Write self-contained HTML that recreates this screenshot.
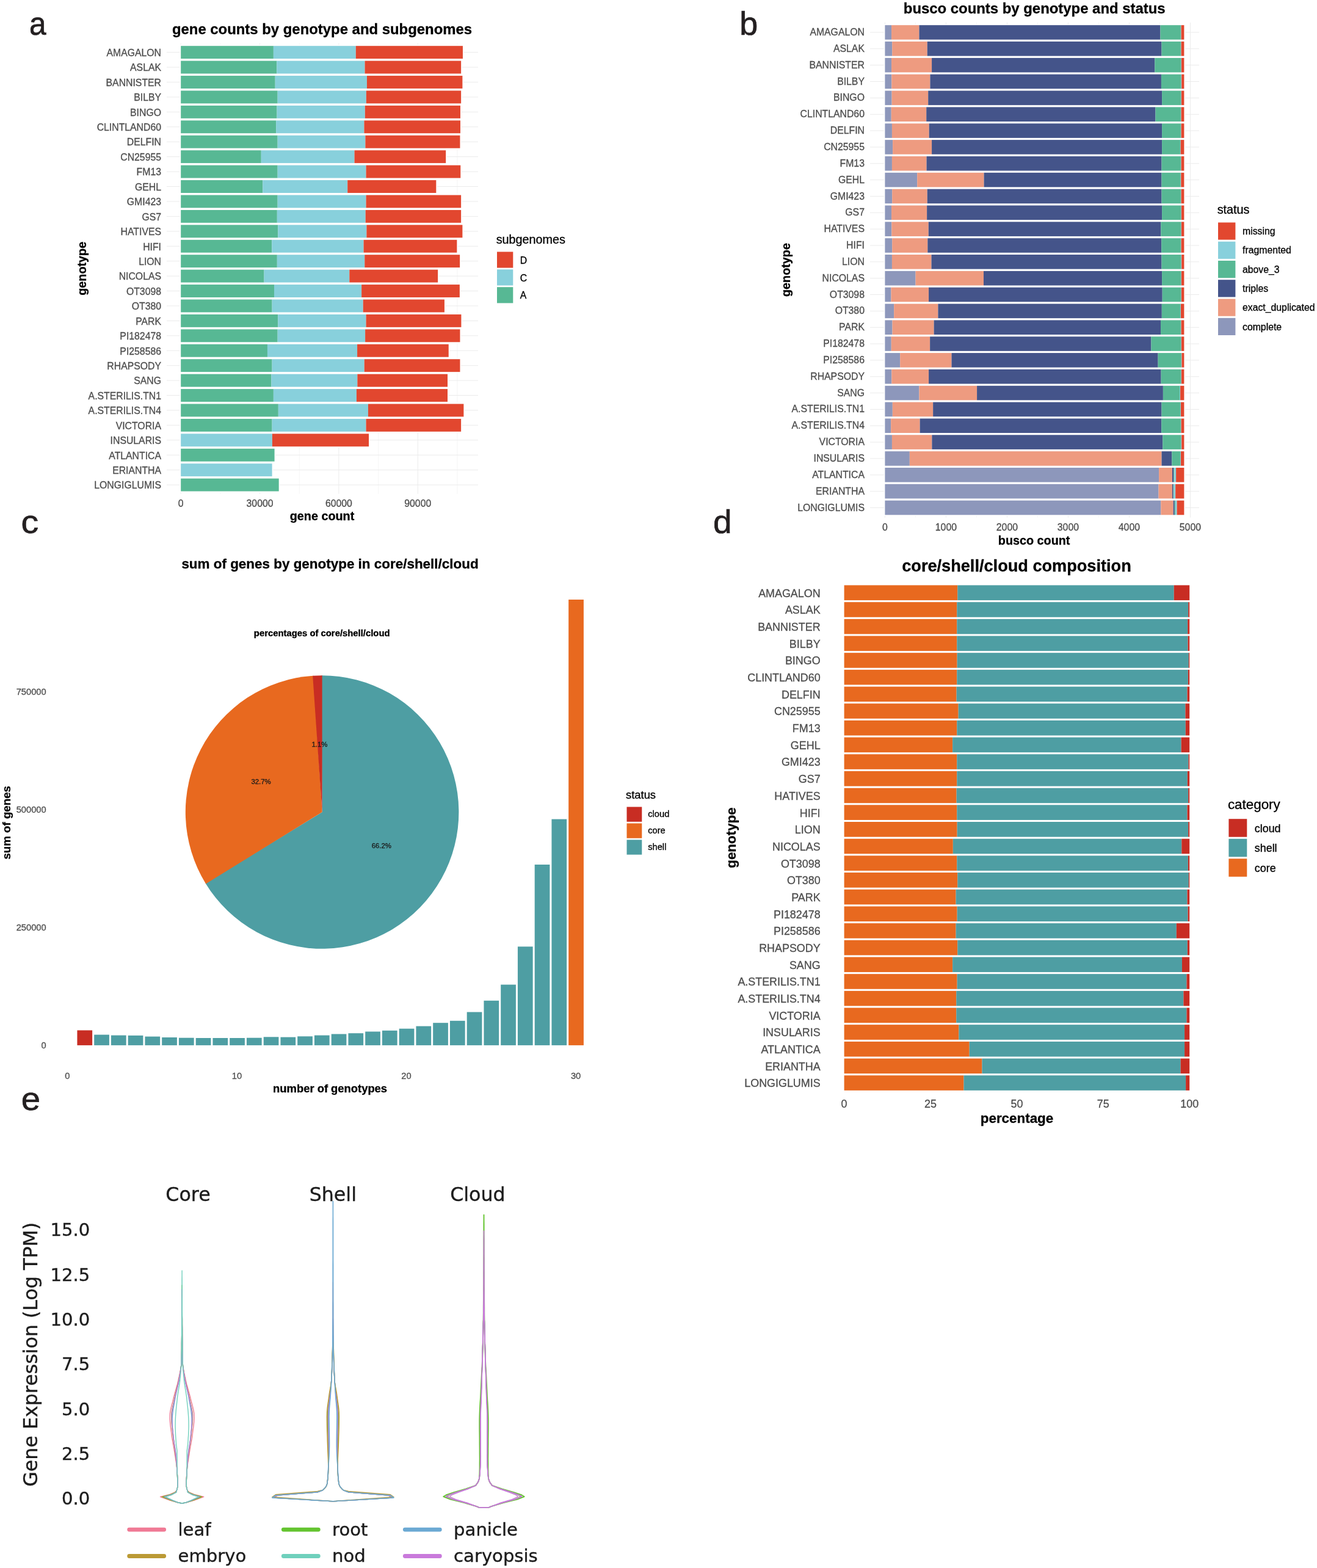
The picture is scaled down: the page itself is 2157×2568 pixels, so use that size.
<!DOCTYPE html>
<html lang="en"><head><meta charset="utf-8"><title>Pangenome figure</title>
<style>html,body{margin:0;padding:0;background:#fff}body{width:2157px;height:2568px;overflow:hidden}svg{display:block}.s{font-family:'Liberation Sans', sans-serif;stroke-width:0.3px;paint-order:stroke fill}.d{font-family:'DejaVu Sans', sans-serif;stroke-width:0.4px;paint-order:stroke fill}</style></head><body>
<svg width="2157" height="2568" viewBox="0 0 2157 2568" role="img" aria-label="Pangenome figure with panels a to e">
<rect width="2157" height="2568" fill="#fff"/>
<g id="panel-a">
<line x1="296.20" y1="70.99" x2="296.20" y2="808.78" stroke="#EBEBEB" stroke-width="1.0"/>
<line x1="360.88" y1="70.99" x2="360.88" y2="808.78" stroke="#EBEBEB" stroke-width="0.5"/>
<line x1="425.56" y1="70.99" x2="425.56" y2="808.78" stroke="#EBEBEB" stroke-width="1.0"/>
<line x1="490.24" y1="70.99" x2="490.24" y2="808.78" stroke="#EBEBEB" stroke-width="0.5"/>
<line x1="554.92" y1="70.99" x2="554.92" y2="808.78" stroke="#EBEBEB" stroke-width="1.0"/>
<line x1="619.60" y1="70.99" x2="619.60" y2="808.78" stroke="#EBEBEB" stroke-width="0.5"/>
<line x1="684.28" y1="70.99" x2="684.28" y2="808.78" stroke="#EBEBEB" stroke-width="1.0"/>
<line x1="748.96" y1="70.99" x2="748.96" y2="808.78" stroke="#EBEBEB" stroke-width="0.5"/>
<line x1="273.00" y1="85.65" x2="783.00" y2="85.65" stroke="#EBEBEB" stroke-width="1.0"/>
<line x1="273.00" y1="110.08" x2="783.00" y2="110.08" stroke="#EBEBEB" stroke-width="1.0"/>
<line x1="273.00" y1="134.51" x2="783.00" y2="134.51" stroke="#EBEBEB" stroke-width="1.0"/>
<line x1="273.00" y1="158.94" x2="783.00" y2="158.94" stroke="#EBEBEB" stroke-width="1.0"/>
<line x1="273.00" y1="183.37" x2="783.00" y2="183.37" stroke="#EBEBEB" stroke-width="1.0"/>
<line x1="273.00" y1="207.80" x2="783.00" y2="207.80" stroke="#EBEBEB" stroke-width="1.0"/>
<line x1="273.00" y1="232.23" x2="783.00" y2="232.23" stroke="#EBEBEB" stroke-width="1.0"/>
<line x1="273.00" y1="256.66" x2="783.00" y2="256.66" stroke="#EBEBEB" stroke-width="1.0"/>
<line x1="273.00" y1="281.09" x2="783.00" y2="281.09" stroke="#EBEBEB" stroke-width="1.0"/>
<line x1="273.00" y1="305.52" x2="783.00" y2="305.52" stroke="#EBEBEB" stroke-width="1.0"/>
<line x1="273.00" y1="329.95" x2="783.00" y2="329.95" stroke="#EBEBEB" stroke-width="1.0"/>
<line x1="273.00" y1="354.38" x2="783.00" y2="354.38" stroke="#EBEBEB" stroke-width="1.0"/>
<line x1="273.00" y1="378.81" x2="783.00" y2="378.81" stroke="#EBEBEB" stroke-width="1.0"/>
<line x1="273.00" y1="403.24" x2="783.00" y2="403.24" stroke="#EBEBEB" stroke-width="1.0"/>
<line x1="273.00" y1="427.67" x2="783.00" y2="427.67" stroke="#EBEBEB" stroke-width="1.0"/>
<line x1="273.00" y1="452.10" x2="783.00" y2="452.10" stroke="#EBEBEB" stroke-width="1.0"/>
<line x1="273.00" y1="476.53" x2="783.00" y2="476.53" stroke="#EBEBEB" stroke-width="1.0"/>
<line x1="273.00" y1="500.96" x2="783.00" y2="500.96" stroke="#EBEBEB" stroke-width="1.0"/>
<line x1="273.00" y1="525.39" x2="783.00" y2="525.39" stroke="#EBEBEB" stroke-width="1.0"/>
<line x1="273.00" y1="549.82" x2="783.00" y2="549.82" stroke="#EBEBEB" stroke-width="1.0"/>
<line x1="273.00" y1="574.25" x2="783.00" y2="574.25" stroke="#EBEBEB" stroke-width="1.0"/>
<line x1="273.00" y1="598.68" x2="783.00" y2="598.68" stroke="#EBEBEB" stroke-width="1.0"/>
<line x1="273.00" y1="623.11" x2="783.00" y2="623.11" stroke="#EBEBEB" stroke-width="1.0"/>
<line x1="273.00" y1="647.54" x2="783.00" y2="647.54" stroke="#EBEBEB" stroke-width="1.0"/>
<line x1="273.00" y1="671.97" x2="783.00" y2="671.97" stroke="#EBEBEB" stroke-width="1.0"/>
<line x1="273.00" y1="696.40" x2="783.00" y2="696.40" stroke="#EBEBEB" stroke-width="1.0"/>
<line x1="273.00" y1="720.83" x2="783.00" y2="720.83" stroke="#EBEBEB" stroke-width="1.0"/>
<line x1="273.00" y1="745.26" x2="783.00" y2="745.26" stroke="#EBEBEB" stroke-width="1.0"/>
<line x1="273.00" y1="769.69" x2="783.00" y2="769.69" stroke="#EBEBEB" stroke-width="1.0"/>
<line x1="273.00" y1="794.12" x2="783.00" y2="794.12" stroke="#EBEBEB" stroke-width="1.0"/>
<rect x="294.60" y="73.44" width="464.97" height="24.43" fill="#fff"/>
<rect x="296.20" y="75.20" width="151.68" height="20.90" fill="#57B894"/>
<rect x="447.88" y="75.20" width="134.92" height="20.90" fill="#88D0DC"/>
<rect x="582.80" y="75.20" width="175.17" height="20.90" fill="#E2472F"/>
<text class="s" x="264.00" y="91.91" font-size="15.8" fill="#4D4D4D" text-anchor="end" stroke="#4D4D4D">AMAGALON</text>
<rect x="294.60" y="97.87" width="462.14" height="24.43" fill="#fff"/>
<rect x="296.20" y="99.63" width="157.07" height="20.90" fill="#57B894"/>
<rect x="453.27" y="99.63" width="144.27" height="20.90" fill="#88D0DC"/>
<rect x="597.54" y="99.63" width="157.60" height="20.90" fill="#E2472F"/>
<text class="s" x="264.00" y="116.34" font-size="15.8" fill="#4D4D4D" text-anchor="end" stroke="#4D4D4D">ASLAK</text>
<rect x="294.60" y="122.29" width="464.40" height="24.43" fill="#fff"/>
<rect x="296.20" y="124.06" width="154.51" height="20.90" fill="#57B894"/>
<rect x="450.71" y="124.06" width="150.23" height="20.90" fill="#88D0DC"/>
<rect x="600.94" y="124.06" width="156.46" height="20.90" fill="#E2472F"/>
<text class="s" x="264.00" y="140.77" font-size="15.8" fill="#4D4D4D" text-anchor="end" stroke="#4D4D4D">BANNISTER</text>
<rect x="294.60" y="146.72" width="462.14" height="24.43" fill="#fff"/>
<rect x="296.20" y="148.49" width="158.48" height="20.90" fill="#57B894"/>
<rect x="454.68" y="148.49" width="145.12" height="20.90" fill="#88D0DC"/>
<rect x="599.81" y="148.49" width="155.33" height="20.90" fill="#E2472F"/>
<text class="s" x="264.00" y="165.20" font-size="15.8" fill="#4D4D4D" text-anchor="end" stroke="#4D4D4D">BILBY</text>
<rect x="294.60" y="171.16" width="461.00" height="24.43" fill="#fff"/>
<rect x="296.20" y="172.92" width="157.35" height="20.90" fill="#57B894"/>
<rect x="453.55" y="172.92" width="144.27" height="20.90" fill="#88D0DC"/>
<rect x="597.82" y="172.92" width="156.18" height="20.90" fill="#E2472F"/>
<text class="s" x="264.00" y="189.63" font-size="15.8" fill="#4D4D4D" text-anchor="end" stroke="#4D4D4D">BINGO</text>
<rect x="294.60" y="195.59" width="461.00" height="24.43" fill="#fff"/>
<rect x="296.20" y="197.35" width="155.93" height="20.90" fill="#57B894"/>
<rect x="452.13" y="197.35" width="144.27" height="20.90" fill="#88D0DC"/>
<rect x="596.41" y="197.35" width="157.60" height="20.90" fill="#E2472F"/>
<text class="s" x="264.00" y="214.06" font-size="15.8" fill="#4D4D4D" text-anchor="end" stroke="#4D4D4D">CLINTLAND60</text>
<rect x="294.60" y="220.01" width="460.44" height="24.43" fill="#fff"/>
<rect x="296.20" y="221.78" width="158.48" height="20.90" fill="#57B894"/>
<rect x="454.68" y="221.78" width="143.71" height="20.90" fill="#88D0DC"/>
<rect x="598.39" y="221.78" width="155.05" height="20.90" fill="#E2472F"/>
<text class="s" x="264.00" y="238.49" font-size="15.8" fill="#4D4D4D" text-anchor="end" stroke="#4D4D4D">DELFIN</text>
<rect x="294.60" y="244.44" width="437.19" height="24.43" fill="#fff"/>
<rect x="296.20" y="246.21" width="131.56" height="20.90" fill="#57B894"/>
<rect x="427.76" y="246.21" width="152.78" height="20.90" fill="#88D0DC"/>
<rect x="580.53" y="246.21" width="149.66" height="20.90" fill="#E2472F"/>
<text class="s" x="264.00" y="262.92" font-size="15.8" fill="#4D4D4D" text-anchor="end" stroke="#4D4D4D">CN25955</text>
<rect x="294.60" y="268.88" width="461.29" height="24.43" fill="#fff"/>
<rect x="296.20" y="270.64" width="158.48" height="20.90" fill="#57B894"/>
<rect x="454.68" y="270.64" width="144.84" height="20.90" fill="#88D0DC"/>
<rect x="599.52" y="270.64" width="154.76" height="20.90" fill="#E2472F"/>
<text class="s" x="264.00" y="287.35" font-size="15.8" fill="#4D4D4D" text-anchor="end" stroke="#4D4D4D">FM13</text>
<rect x="294.60" y="293.31" width="421.32" height="24.43" fill="#fff"/>
<rect x="296.20" y="295.07" width="134.11" height="20.90" fill="#57B894"/>
<rect x="430.31" y="295.07" width="138.89" height="20.90" fill="#88D0DC"/>
<rect x="569.20" y="295.07" width="145.12" height="20.90" fill="#E2472F"/>
<text class="s" x="264.00" y="311.78" font-size="15.8" fill="#4D4D4D" text-anchor="end" stroke="#4D4D4D">GEHL</text>
<rect x="294.60" y="317.74" width="462.14" height="24.43" fill="#fff"/>
<rect x="296.20" y="319.50" width="158.48" height="20.90" fill="#57B894"/>
<rect x="454.68" y="319.50" width="144.84" height="20.90" fill="#88D0DC"/>
<rect x="599.52" y="319.50" width="155.61" height="20.90" fill="#E2472F"/>
<text class="s" x="264.00" y="336.21" font-size="15.8" fill="#4D4D4D" text-anchor="end" stroke="#4D4D4D">GMI423</text>
<rect x="294.60" y="342.17" width="462.14" height="24.43" fill="#fff"/>
<rect x="296.20" y="343.93" width="157.63" height="20.90" fill="#57B894"/>
<rect x="453.83" y="343.93" width="144.84" height="20.90" fill="#88D0DC"/>
<rect x="598.67" y="343.93" width="156.46" height="20.90" fill="#E2472F"/>
<text class="s" x="264.00" y="360.64" font-size="15.8" fill="#4D4D4D" text-anchor="end" stroke="#4D4D4D">GS7</text>
<rect x="294.60" y="366.59" width="464.40" height="24.43" fill="#fff"/>
<rect x="296.20" y="368.36" width="159.05" height="20.90" fill="#57B894"/>
<rect x="455.25" y="368.36" width="145.12" height="20.90" fill="#88D0DC"/>
<rect x="600.37" y="368.36" width="157.03" height="20.90" fill="#E2472F"/>
<text class="s" x="264.00" y="385.07" font-size="15.8" fill="#4D4D4D" text-anchor="end" stroke="#4D4D4D">HATIVES</text>
<rect x="294.60" y="391.03" width="455.33" height="24.43" fill="#fff"/>
<rect x="296.20" y="392.79" width="149.13" height="20.90" fill="#57B894"/>
<rect x="445.33" y="392.79" width="150.23" height="20.90" fill="#88D0DC"/>
<rect x="595.56" y="392.79" width="152.78" height="20.90" fill="#E2472F"/>
<text class="s" x="264.00" y="409.50" font-size="15.8" fill="#4D4D4D" text-anchor="end" stroke="#4D4D4D">HIFI</text>
<rect x="294.60" y="415.45" width="460.15" height="24.43" fill="#fff"/>
<rect x="296.20" y="417.22" width="157.63" height="20.90" fill="#57B894"/>
<rect x="453.83" y="417.22" width="143.42" height="20.90" fill="#88D0DC"/>
<rect x="597.26" y="417.22" width="155.90" height="20.90" fill="#E2472F"/>
<text class="s" x="264.00" y="433.93" font-size="15.8" fill="#4D4D4D" text-anchor="end" stroke="#4D4D4D">LION</text>
<rect x="294.60" y="439.89" width="424.15" height="24.43" fill="#fff"/>
<rect x="296.20" y="441.65" width="136.37" height="20.90" fill="#57B894"/>
<rect x="432.57" y="441.65" width="139.74" height="20.90" fill="#88D0DC"/>
<rect x="572.31" y="441.65" width="144.84" height="20.90" fill="#E2472F"/>
<text class="s" x="264.00" y="458.36" font-size="15.8" fill="#4D4D4D" text-anchor="end" stroke="#4D4D4D">NICOLAS</text>
<rect x="294.60" y="464.31" width="459.87" height="24.43" fill="#fff"/>
<rect x="296.20" y="466.08" width="152.81" height="20.90" fill="#57B894"/>
<rect x="449.01" y="466.08" width="143.14" height="20.90" fill="#88D0DC"/>
<rect x="592.15" y="466.08" width="160.71" height="20.90" fill="#E2472F"/>
<text class="s" x="264.00" y="482.79" font-size="15.8" fill="#4D4D4D" text-anchor="end" stroke="#4D4D4D">OT3098</text>
<rect x="294.60" y="488.75" width="434.93" height="24.43" fill="#fff"/>
<rect x="296.20" y="490.51" width="149.41" height="20.90" fill="#57B894"/>
<rect x="445.61" y="490.51" width="149.09" height="20.90" fill="#88D0DC"/>
<rect x="594.71" y="490.51" width="133.22" height="20.90" fill="#E2472F"/>
<text class="s" x="264.00" y="507.22" font-size="15.8" fill="#4D4D4D" text-anchor="end" stroke="#4D4D4D">OT380</text>
<rect x="294.60" y="513.17" width="462.42" height="24.43" fill="#fff"/>
<rect x="296.20" y="514.94" width="159.05" height="20.90" fill="#57B894"/>
<rect x="455.25" y="514.94" width="144.27" height="20.90" fill="#88D0DC"/>
<rect x="599.52" y="514.94" width="155.90" height="20.90" fill="#E2472F"/>
<text class="s" x="264.00" y="531.65" font-size="15.8" fill="#4D4D4D" text-anchor="end" stroke="#4D4D4D">PARK</text>
<rect x="294.60" y="537.61" width="460.44" height="24.43" fill="#fff"/>
<rect x="296.20" y="539.37" width="158.48" height="20.90" fill="#57B894"/>
<rect x="454.68" y="539.37" width="143.42" height="20.90" fill="#88D0DC"/>
<rect x="598.11" y="539.37" width="155.33" height="20.90" fill="#E2472F"/>
<text class="s" x="264.00" y="556.08" font-size="15.8" fill="#4D4D4D" text-anchor="end" stroke="#4D4D4D">PI182478</text>
<rect x="294.60" y="562.03" width="441.73" height="24.43" fill="#fff"/>
<rect x="296.20" y="563.80" width="141.76" height="20.90" fill="#57B894"/>
<rect x="437.96" y="563.80" width="147.11" height="20.90" fill="#88D0DC"/>
<rect x="585.07" y="563.80" width="149.66" height="20.90" fill="#E2472F"/>
<text class="s" x="264.00" y="580.51" font-size="15.8" fill="#4D4D4D" text-anchor="end" stroke="#4D4D4D">PI258586</text>
<rect x="294.60" y="586.46" width="460.44" height="24.43" fill="#fff"/>
<rect x="296.20" y="588.23" width="149.41" height="20.90" fill="#57B894"/>
<rect x="445.61" y="588.23" width="151.08" height="20.90" fill="#88D0DC"/>
<rect x="596.69" y="588.23" width="156.75" height="20.90" fill="#E2472F"/>
<text class="s" x="264.00" y="604.94" font-size="15.8" fill="#4D4D4D" text-anchor="end" stroke="#4D4D4D">RHAPSODY</text>
<rect x="294.60" y="610.89" width="440.03" height="24.43" fill="#fff"/>
<rect x="296.20" y="612.66" width="148.28" height="20.90" fill="#57B894"/>
<rect x="444.48" y="612.66" width="140.87" height="20.90" fill="#88D0DC"/>
<rect x="585.35" y="612.66" width="147.68" height="20.90" fill="#E2472F"/>
<text class="s" x="264.00" y="629.37" font-size="15.8" fill="#4D4D4D" text-anchor="end" stroke="#4D4D4D">SANG</text>
<rect x="294.60" y="635.32" width="440.03" height="24.43" fill="#fff"/>
<rect x="296.20" y="637.09" width="151.68" height="20.90" fill="#57B894"/>
<rect x="447.88" y="637.09" width="136.05" height="20.90" fill="#88D0DC"/>
<rect x="583.93" y="637.09" width="149.09" height="20.90" fill="#E2472F"/>
<text class="s" x="264.00" y="653.80" font-size="15.8" fill="#4D4D4D" text-anchor="end" stroke="#4D4D4D">A.STERILIS.TN1</text>
<rect x="294.60" y="659.75" width="466.39" height="24.43" fill="#fff"/>
<rect x="296.20" y="661.52" width="159.62" height="20.90" fill="#57B894"/>
<rect x="455.82" y="661.52" width="147.11" height="20.90" fill="#88D0DC"/>
<rect x="602.93" y="661.52" width="156.46" height="20.90" fill="#E2472F"/>
<text class="s" x="264.00" y="678.23" font-size="15.8" fill="#4D4D4D" text-anchor="end" stroke="#4D4D4D">A.STERILIS.TN4</text>
<rect x="294.60" y="684.18" width="462.14" height="24.43" fill="#fff"/>
<rect x="296.20" y="685.95" width="149.41" height="20.90" fill="#57B894"/>
<rect x="445.61" y="685.95" width="153.91" height="20.90" fill="#88D0DC"/>
<rect x="599.52" y="685.95" width="155.61" height="20.90" fill="#E2472F"/>
<text class="s" x="264.00" y="702.66" font-size="15.8" fill="#4D4D4D" text-anchor="end" stroke="#4D4D4D">VICTORIA</text>
<rect x="294.60" y="708.61" width="311.06" height="24.43" fill="#fff"/>
<rect x="296.20" y="710.38" width="149.70" height="20.90" fill="#88D0DC"/>
<rect x="445.90" y="710.38" width="158.16" height="20.90" fill="#E2472F"/>
<text class="s" x="264.00" y="727.09" font-size="15.8" fill="#4D4D4D" text-anchor="end" stroke="#4D4D4D">INSULARIS</text>
<rect x="294.60" y="733.04" width="156.58" height="24.43" fill="#fff"/>
<rect x="296.20" y="734.81" width="153.38" height="20.90" fill="#57B894"/>
<text class="s" x="264.00" y="751.52" font-size="15.8" fill="#4D4D4D" text-anchor="end" stroke="#4D4D4D">ATLANTICA</text>
<rect x="294.60" y="757.47" width="152.61" height="24.43" fill="#fff"/>
<rect x="296.20" y="759.24" width="149.41" height="20.90" fill="#88D0DC"/>
<text class="s" x="264.00" y="775.95" font-size="15.8" fill="#4D4D4D" text-anchor="end" stroke="#4D4D4D">ERIANTHA</text>
<rect x="294.60" y="781.90" width="163.67" height="24.43" fill="#fff"/>
<rect x="296.20" y="783.67" width="160.47" height="20.90" fill="#57B894"/>
<text class="s" x="264.00" y="800.38" font-size="15.8" fill="#4D4D4D" text-anchor="end" stroke="#4D4D4D">LONGIGLUMIS</text>
<text class="s" x="296.20" y="830.26" font-size="15.8" fill="#4D4D4D" text-anchor="middle" stroke="#4D4D4D">0</text>
<text class="s" x="425.56" y="830.26" font-size="15.8" fill="#4D4D4D" text-anchor="middle" stroke="#4D4D4D">30000</text>
<text class="s" x="554.92" y="830.26" font-size="15.8" fill="#4D4D4D" text-anchor="middle" stroke="#4D4D4D">60000</text>
<text class="s" x="684.28" y="830.26" font-size="15.8" fill="#4D4D4D" text-anchor="middle" stroke="#4D4D4D">90000</text>
<text class="s" x="527.50" y="852.00" font-size="19.8" fill="#000" text-anchor="middle" font-weight="bold" stroke="#000">gene count</text>
<text class="s" x="141.40" y="439.80" font-size="19.8" fill="#000" text-anchor="middle" font-weight="bold" transform="rotate(-90 141.40 439.80)" stroke="#000">genotype</text>
<text class="s" x="527.50" y="55.50" font-size="23.9" fill="#000" text-anchor="middle" font-weight="bold" stroke="#000">gene counts by genotype and subgenomes</text>
<text class="s" x="812.70" y="399.30" font-size="19.8" fill="#000" stroke="#000">subgenomes</text>
<rect x="814.00" y="412.40" width="26.30" height="26.20" fill="#E2472F"/>
<text class="s" x="851.80" y="431.66" font-size="15.8" fill="#000" stroke="#000">D</text>
<rect x="814.00" y="441.30" width="26.30" height="26.20" fill="#88D0DC"/>
<text class="s" x="851.80" y="460.56" font-size="15.8" fill="#000" stroke="#000">C</text>
<rect x="814.00" y="470.20" width="26.30" height="26.20" fill="#57B894"/>
<text class="s" x="851.80" y="489.46" font-size="15.8" fill="#000" stroke="#000">A</text>
</g>
<g id="panel-b">
<line x1="1449.40" y1="36.89" x2="1449.40" y2="847.61" stroke="#EBEBEB" stroke-width="1.0"/>
<line x1="1499.40" y1="36.89" x2="1499.40" y2="847.61" stroke="#EBEBEB" stroke-width="0.5"/>
<line x1="1549.40" y1="36.89" x2="1549.40" y2="847.61" stroke="#EBEBEB" stroke-width="1.0"/>
<line x1="1599.40" y1="36.89" x2="1599.40" y2="847.61" stroke="#EBEBEB" stroke-width="0.5"/>
<line x1="1649.40" y1="36.89" x2="1649.40" y2="847.61" stroke="#EBEBEB" stroke-width="1.0"/>
<line x1="1699.40" y1="36.89" x2="1699.40" y2="847.61" stroke="#EBEBEB" stroke-width="0.5"/>
<line x1="1749.40" y1="36.89" x2="1749.40" y2="847.61" stroke="#EBEBEB" stroke-width="1.0"/>
<line x1="1799.40" y1="36.89" x2="1799.40" y2="847.61" stroke="#EBEBEB" stroke-width="0.5"/>
<line x1="1849.40" y1="36.89" x2="1849.40" y2="847.61" stroke="#EBEBEB" stroke-width="1.0"/>
<line x1="1899.40" y1="36.89" x2="1899.40" y2="847.61" stroke="#EBEBEB" stroke-width="0.5"/>
<line x1="1949.40" y1="36.89" x2="1949.40" y2="847.61" stroke="#EBEBEB" stroke-width="1.0"/>
<line x1="1425.00" y1="53.00" x2="1964.00" y2="53.00" stroke="#EBEBEB" stroke-width="1.0"/>
<line x1="1425.00" y1="79.84" x2="1964.00" y2="79.84" stroke="#EBEBEB" stroke-width="1.0"/>
<line x1="1425.00" y1="106.69" x2="1964.00" y2="106.69" stroke="#EBEBEB" stroke-width="1.0"/>
<line x1="1425.00" y1="133.53" x2="1964.00" y2="133.53" stroke="#EBEBEB" stroke-width="1.0"/>
<line x1="1425.00" y1="160.38" x2="1964.00" y2="160.38" stroke="#EBEBEB" stroke-width="1.0"/>
<line x1="1425.00" y1="187.22" x2="1964.00" y2="187.22" stroke="#EBEBEB" stroke-width="1.0"/>
<line x1="1425.00" y1="214.07" x2="1964.00" y2="214.07" stroke="#EBEBEB" stroke-width="1.0"/>
<line x1="1425.00" y1="240.91" x2="1964.00" y2="240.91" stroke="#EBEBEB" stroke-width="1.0"/>
<line x1="1425.00" y1="267.76" x2="1964.00" y2="267.76" stroke="#EBEBEB" stroke-width="1.0"/>
<line x1="1425.00" y1="294.61" x2="1964.00" y2="294.61" stroke="#EBEBEB" stroke-width="1.0"/>
<line x1="1425.00" y1="321.45" x2="1964.00" y2="321.45" stroke="#EBEBEB" stroke-width="1.0"/>
<line x1="1425.00" y1="348.29" x2="1964.00" y2="348.29" stroke="#EBEBEB" stroke-width="1.0"/>
<line x1="1425.00" y1="375.14" x2="1964.00" y2="375.14" stroke="#EBEBEB" stroke-width="1.0"/>
<line x1="1425.00" y1="401.99" x2="1964.00" y2="401.99" stroke="#EBEBEB" stroke-width="1.0"/>
<line x1="1425.00" y1="428.83" x2="1964.00" y2="428.83" stroke="#EBEBEB" stroke-width="1.0"/>
<line x1="1425.00" y1="455.67" x2="1964.00" y2="455.67" stroke="#EBEBEB" stroke-width="1.0"/>
<line x1="1425.00" y1="482.52" x2="1964.00" y2="482.52" stroke="#EBEBEB" stroke-width="1.0"/>
<line x1="1425.00" y1="509.37" x2="1964.00" y2="509.37" stroke="#EBEBEB" stroke-width="1.0"/>
<line x1="1425.00" y1="536.21" x2="1964.00" y2="536.21" stroke="#EBEBEB" stroke-width="1.0"/>
<line x1="1425.00" y1="563.05" x2="1964.00" y2="563.05" stroke="#EBEBEB" stroke-width="1.0"/>
<line x1="1425.00" y1="589.90" x2="1964.00" y2="589.90" stroke="#EBEBEB" stroke-width="1.0"/>
<line x1="1425.00" y1="616.75" x2="1964.00" y2="616.75" stroke="#EBEBEB" stroke-width="1.0"/>
<line x1="1425.00" y1="643.59" x2="1964.00" y2="643.59" stroke="#EBEBEB" stroke-width="1.0"/>
<line x1="1425.00" y1="670.43" x2="1964.00" y2="670.43" stroke="#EBEBEB" stroke-width="1.0"/>
<line x1="1425.00" y1="697.28" x2="1964.00" y2="697.28" stroke="#EBEBEB" stroke-width="1.0"/>
<line x1="1425.00" y1="724.12" x2="1964.00" y2="724.12" stroke="#EBEBEB" stroke-width="1.0"/>
<line x1="1425.00" y1="750.97" x2="1964.00" y2="750.97" stroke="#EBEBEB" stroke-width="1.0"/>
<line x1="1425.00" y1="777.81" x2="1964.00" y2="777.81" stroke="#EBEBEB" stroke-width="1.0"/>
<line x1="1425.00" y1="804.66" x2="1964.00" y2="804.66" stroke="#EBEBEB" stroke-width="1.0"/>
<line x1="1425.00" y1="831.50" x2="1964.00" y2="831.50" stroke="#EBEBEB" stroke-width="1.0"/>
<rect x="1447.80" y="39.58" width="493.17" height="26.84" fill="#fff"/>
<rect x="1449.40" y="41.20" width="10.65" height="23.60" fill="#8D97BB"/>
<rect x="1460.05" y="41.20" width="45.40" height="23.60" fill="#EE9B80"/>
<rect x="1505.44" y="41.20" width="395.01" height="23.60" fill="#44548A"/>
<rect x="1900.45" y="41.20" width="33.61" height="23.60" fill="#57B894"/>
<rect x="1933.76" y="41.20" width="0.80" height="23.60" fill="#88D0DC"/>
<rect x="1934.56" y="41.20" width="4.81" height="23.60" fill="#E2472F"/>
<text class="s" x="1415.95" y="58.06" font-size="15.8" fill="#4D4D4D" text-anchor="end" stroke="#4D4D4D">AMAGALON</text>
<rect x="1447.80" y="66.42" width="493.17" height="26.84" fill="#fff"/>
<rect x="1449.40" y="68.05" width="11.82" height="23.60" fill="#8D97BB"/>
<rect x="1461.22" y="68.05" width="57.48" height="23.60" fill="#EE9B80"/>
<rect x="1518.71" y="68.05" width="383.81" height="23.60" fill="#44548A"/>
<rect x="1902.52" y="68.05" width="31.54" height="23.60" fill="#57B894"/>
<rect x="1933.76" y="68.05" width="0.80" height="23.60" fill="#88D0DC"/>
<rect x="1934.56" y="68.05" width="4.81" height="23.60" fill="#E2472F"/>
<text class="s" x="1415.95" y="84.90" font-size="15.8" fill="#4D4D4D" text-anchor="end" stroke="#4D4D4D">ASLAK</text>
<rect x="1447.80" y="93.27" width="493.17" height="26.84" fill="#fff"/>
<rect x="1449.40" y="94.89" width="10.65" height="23.60" fill="#8D97BB"/>
<rect x="1460.05" y="94.89" width="66.03" height="23.60" fill="#EE9B80"/>
<rect x="1526.08" y="94.89" width="365.24" height="23.60" fill="#44548A"/>
<rect x="1891.32" y="94.89" width="43.04" height="23.60" fill="#57B894"/>
<rect x="1934.05" y="94.89" width="0.80" height="23.60" fill="#88D0DC"/>
<rect x="1934.85" y="94.89" width="4.51" height="23.60" fill="#E2472F"/>
<text class="s" x="1415.95" y="111.75" font-size="15.8" fill="#4D4D4D" text-anchor="end" stroke="#4D4D4D">BANNISTER</text>
<rect x="1447.80" y="120.11" width="493.17" height="26.84" fill="#fff"/>
<rect x="1449.40" y="121.73" width="10.94" height="23.60" fill="#8D97BB"/>
<rect x="1460.34" y="121.73" width="63.08" height="23.60" fill="#EE9B80"/>
<rect x="1523.42" y="121.73" width="378.50" height="23.60" fill="#44548A"/>
<rect x="1901.93" y="121.73" width="32.72" height="23.60" fill="#57B894"/>
<rect x="1934.35" y="121.73" width="0.80" height="23.60" fill="#88D0DC"/>
<rect x="1935.15" y="121.73" width="4.22" height="23.60" fill="#E2472F"/>
<text class="s" x="1415.95" y="138.59" font-size="15.8" fill="#4D4D4D" text-anchor="end" stroke="#4D4D4D">BILBY</text>
<rect x="1447.80" y="146.96" width="493.17" height="26.85" fill="#fff"/>
<rect x="1449.40" y="148.58" width="11.23" height="23.60" fill="#8D97BB"/>
<rect x="1460.63" y="148.58" width="59.55" height="23.60" fill="#EE9B80"/>
<rect x="1520.18" y="148.58" width="382.93" height="23.60" fill="#44548A"/>
<rect x="1903.11" y="148.58" width="31.25" height="23.60" fill="#57B894"/>
<rect x="1934.05" y="148.58" width="0.80" height="23.60" fill="#88D0DC"/>
<rect x="1934.85" y="148.58" width="4.51" height="23.60" fill="#E2472F"/>
<text class="s" x="1415.95" y="165.44" font-size="15.8" fill="#4D4D4D" text-anchor="end" stroke="#4D4D4D">BINGO</text>
<rect x="1447.80" y="173.80" width="493.17" height="26.84" fill="#fff"/>
<rect x="1449.40" y="175.42" width="10.35" height="23.60" fill="#8D97BB"/>
<rect x="1459.75" y="175.42" width="57.48" height="23.60" fill="#EE9B80"/>
<rect x="1517.23" y="175.42" width="375.26" height="23.60" fill="#44548A"/>
<rect x="1892.49" y="175.42" width="41.56" height="23.60" fill="#57B894"/>
<rect x="1933.76" y="175.42" width="0.80" height="23.60" fill="#88D0DC"/>
<rect x="1934.56" y="175.42" width="4.81" height="23.60" fill="#E2472F"/>
<text class="s" x="1415.95" y="192.28" font-size="15.8" fill="#4D4D4D" text-anchor="end" stroke="#4D4D4D">CLINTLAND60</text>
<rect x="1447.80" y="200.65" width="493.17" height="26.85" fill="#fff"/>
<rect x="1449.40" y="202.27" width="11.53" height="23.60" fill="#8D97BB"/>
<rect x="1460.93" y="202.27" width="60.73" height="23.60" fill="#EE9B80"/>
<rect x="1521.66" y="202.27" width="381.45" height="23.60" fill="#44548A"/>
<rect x="1903.11" y="202.27" width="30.95" height="23.60" fill="#57B894"/>
<rect x="1933.76" y="202.27" width="0.80" height="23.60" fill="#88D0DC"/>
<rect x="1934.56" y="202.27" width="4.81" height="23.60" fill="#E2472F"/>
<text class="s" x="1415.95" y="219.13" font-size="15.8" fill="#4D4D4D" text-anchor="end" stroke="#4D4D4D">DELFIN</text>
<rect x="1447.80" y="227.49" width="493.17" height="26.84" fill="#fff"/>
<rect x="1449.40" y="229.11" width="12.71" height="23.60" fill="#8D97BB"/>
<rect x="1462.11" y="229.11" width="63.97" height="23.60" fill="#EE9B80"/>
<rect x="1526.08" y="229.11" width="377.03" height="23.60" fill="#44548A"/>
<rect x="1903.11" y="229.11" width="30.07" height="23.60" fill="#57B894"/>
<rect x="1932.87" y="229.11" width="0.80" height="23.60" fill="#88D0DC"/>
<rect x="1933.67" y="229.11" width="5.69" height="23.60" fill="#E2472F"/>
<text class="s" x="1415.95" y="245.97" font-size="15.8" fill="#4D4D4D" text-anchor="end" stroke="#4D4D4D">CN25955</text>
<rect x="1447.80" y="254.34" width="493.17" height="26.85" fill="#fff"/>
<rect x="1449.40" y="255.96" width="11.53" height="23.60" fill="#8D97BB"/>
<rect x="1460.93" y="255.96" width="56.60" height="23.60" fill="#EE9B80"/>
<rect x="1517.53" y="255.96" width="384.99" height="23.60" fill="#44548A"/>
<rect x="1902.52" y="255.96" width="31.54" height="23.60" fill="#57B894"/>
<rect x="1933.76" y="255.96" width="0.80" height="23.60" fill="#88D0DC"/>
<rect x="1934.56" y="255.96" width="4.81" height="23.60" fill="#E2472F"/>
<text class="s" x="1415.95" y="272.82" font-size="15.8" fill="#4D4D4D" text-anchor="end" stroke="#4D4D4D">FM13</text>
<rect x="1447.80" y="281.18" width="493.17" height="26.85" fill="#fff"/>
<rect x="1449.40" y="282.81" width="52.80" height="23.60" fill="#8D97BB"/>
<rect x="1502.20" y="282.81" width="109.37" height="23.60" fill="#EE9B80"/>
<rect x="1611.56" y="282.81" width="290.95" height="23.60" fill="#44548A"/>
<rect x="1902.52" y="282.81" width="31.25" height="23.60" fill="#57B894"/>
<rect x="1933.46" y="282.81" width="0.80" height="23.60" fill="#88D0DC"/>
<rect x="1934.26" y="282.81" width="5.10" height="23.60" fill="#E2472F"/>
<text class="s" x="1415.95" y="299.66" font-size="15.8" fill="#4D4D4D" text-anchor="end" stroke="#4D4D4D">GEHL</text>
<rect x="1447.80" y="308.03" width="493.17" height="26.85" fill="#fff"/>
<rect x="1449.40" y="309.65" width="11.82" height="23.60" fill="#8D97BB"/>
<rect x="1461.22" y="309.65" width="57.48" height="23.60" fill="#EE9B80"/>
<rect x="1518.71" y="309.65" width="383.81" height="23.60" fill="#44548A"/>
<rect x="1902.52" y="309.65" width="31.54" height="23.60" fill="#57B894"/>
<rect x="1933.76" y="309.65" width="0.80" height="23.60" fill="#88D0DC"/>
<rect x="1934.56" y="309.65" width="4.81" height="23.60" fill="#E2472F"/>
<text class="s" x="1415.95" y="326.51" font-size="15.8" fill="#4D4D4D" text-anchor="end" stroke="#4D4D4D">GMI423</text>
<rect x="1447.80" y="334.87" width="493.17" height="26.85" fill="#fff"/>
<rect x="1449.40" y="336.49" width="10.65" height="23.60" fill="#8D97BB"/>
<rect x="1460.05" y="336.49" width="58.07" height="23.60" fill="#EE9B80"/>
<rect x="1518.12" y="336.49" width="384.99" height="23.60" fill="#44548A"/>
<rect x="1903.11" y="336.49" width="31.25" height="23.60" fill="#57B894"/>
<rect x="1934.05" y="336.49" width="0.80" height="23.60" fill="#88D0DC"/>
<rect x="1934.85" y="336.49" width="4.51" height="23.60" fill="#E2472F"/>
<text class="s" x="1415.95" y="353.35" font-size="15.8" fill="#4D4D4D" text-anchor="end" stroke="#4D4D4D">GS7</text>
<rect x="1447.80" y="361.72" width="493.17" height="26.85" fill="#fff"/>
<rect x="1449.40" y="363.34" width="10.94" height="23.60" fill="#8D97BB"/>
<rect x="1460.34" y="363.34" width="60.43" height="23.60" fill="#EE9B80"/>
<rect x="1520.77" y="363.34" width="380.57" height="23.60" fill="#44548A"/>
<rect x="1901.34" y="363.34" width="33.02" height="23.60" fill="#57B894"/>
<rect x="1934.05" y="363.34" width="0.80" height="23.60" fill="#88D0DC"/>
<rect x="1934.85" y="363.34" width="4.51" height="23.60" fill="#E2472F"/>
<text class="s" x="1415.95" y="380.20" font-size="15.8" fill="#4D4D4D" text-anchor="end" stroke="#4D4D4D">HATIVES</text>
<rect x="1447.80" y="388.56" width="493.17" height="26.85" fill="#fff"/>
<rect x="1449.40" y="390.19" width="11.82" height="23.60" fill="#8D97BB"/>
<rect x="1461.22" y="390.19" width="58.07" height="23.60" fill="#EE9B80"/>
<rect x="1519.30" y="390.19" width="382.93" height="23.60" fill="#44548A"/>
<rect x="1902.22" y="390.19" width="31.84" height="23.60" fill="#57B894"/>
<rect x="1933.76" y="390.19" width="0.80" height="23.60" fill="#88D0DC"/>
<rect x="1934.56" y="390.19" width="4.81" height="23.60" fill="#E2472F"/>
<text class="s" x="1415.95" y="407.04" font-size="15.8" fill="#4D4D4D" text-anchor="end" stroke="#4D4D4D">HIFI</text>
<rect x="1447.80" y="415.41" width="493.17" height="26.85" fill="#fff"/>
<rect x="1449.40" y="417.03" width="11.53" height="23.60" fill="#8D97BB"/>
<rect x="1460.93" y="417.03" width="64.56" height="23.60" fill="#EE9B80"/>
<rect x="1525.49" y="417.03" width="377.03" height="23.60" fill="#44548A"/>
<rect x="1902.52" y="417.03" width="32.13" height="23.60" fill="#57B894"/>
<rect x="1934.35" y="417.03" width="0.80" height="23.60" fill="#88D0DC"/>
<rect x="1935.15" y="417.03" width="4.22" height="23.60" fill="#E2472F"/>
<text class="s" x="1415.95" y="433.89" font-size="15.8" fill="#4D4D4D" text-anchor="end" stroke="#4D4D4D">LION</text>
<rect x="1447.80" y="442.25" width="493.17" height="26.85" fill="#fff"/>
<rect x="1449.40" y="443.87" width="50.15" height="23.60" fill="#8D97BB"/>
<rect x="1499.55" y="443.87" width="111.43" height="23.60" fill="#EE9B80"/>
<rect x="1610.98" y="443.87" width="292.13" height="23.60" fill="#44548A"/>
<rect x="1903.11" y="443.87" width="31.25" height="23.60" fill="#57B894"/>
<rect x="1934.05" y="443.87" width="0.80" height="23.60" fill="#88D0DC"/>
<rect x="1934.85" y="443.87" width="4.51" height="23.60" fill="#E2472F"/>
<text class="s" x="1415.95" y="460.73" font-size="15.8" fill="#4D4D4D" text-anchor="end" stroke="#4D4D4D">NICOLAS</text>
<rect x="1447.80" y="469.10" width="493.17" height="26.85" fill="#fff"/>
<rect x="1449.40" y="470.72" width="10.06" height="23.60" fill="#8D97BB"/>
<rect x="1459.46" y="470.72" width="61.61" height="23.60" fill="#EE9B80"/>
<rect x="1521.07" y="470.72" width="382.63" height="23.60" fill="#44548A"/>
<rect x="1903.70" y="470.72" width="30.66" height="23.60" fill="#57B894"/>
<rect x="1934.05" y="470.72" width="0.80" height="23.60" fill="#88D0DC"/>
<rect x="1934.85" y="470.72" width="4.51" height="23.60" fill="#E2472F"/>
<text class="s" x="1415.95" y="487.58" font-size="15.8" fill="#4D4D4D" text-anchor="end" stroke="#4D4D4D">OT3098</text>
<rect x="1447.80" y="495.94" width="493.17" height="26.85" fill="#fff"/>
<rect x="1449.40" y="497.56" width="14.77" height="23.60" fill="#8D97BB"/>
<rect x="1464.17" y="497.56" width="72.22" height="23.60" fill="#EE9B80"/>
<rect x="1536.39" y="497.56" width="366.42" height="23.60" fill="#44548A"/>
<rect x="1902.81" y="497.56" width="30.66" height="23.60" fill="#57B894"/>
<rect x="1933.17" y="497.56" width="0.80" height="23.60" fill="#88D0DC"/>
<rect x="1933.97" y="497.56" width="5.40" height="23.60" fill="#E2472F"/>
<text class="s" x="1415.95" y="514.42" font-size="15.8" fill="#4D4D4D" text-anchor="end" stroke="#4D4D4D">OT380</text>
<rect x="1447.80" y="522.79" width="493.17" height="26.85" fill="#fff"/>
<rect x="1449.40" y="524.41" width="12.12" height="23.60" fill="#8D97BB"/>
<rect x="1461.52" y="524.41" width="68.10" height="23.60" fill="#EE9B80"/>
<rect x="1529.61" y="524.41" width="371.43" height="23.60" fill="#44548A"/>
<rect x="1901.04" y="524.41" width="33.02" height="23.60" fill="#57B894"/>
<rect x="1933.76" y="524.41" width="0.80" height="23.60" fill="#88D0DC"/>
<rect x="1934.56" y="524.41" width="4.81" height="23.60" fill="#E2472F"/>
<text class="s" x="1415.95" y="541.27" font-size="15.8" fill="#4D4D4D" text-anchor="end" stroke="#4D4D4D">PARK</text>
<rect x="1447.80" y="549.63" width="493.17" height="26.85" fill="#fff"/>
<rect x="1449.40" y="551.25" width="10.35" height="23.60" fill="#8D97BB"/>
<rect x="1459.75" y="551.25" width="63.38" height="23.60" fill="#EE9B80"/>
<rect x="1523.13" y="551.25" width="362.29" height="23.60" fill="#44548A"/>
<rect x="1885.42" y="551.25" width="48.93" height="23.60" fill="#57B894"/>
<rect x="1934.05" y="551.25" width="0.80" height="23.60" fill="#88D0DC"/>
<rect x="1934.85" y="551.25" width="4.51" height="23.60" fill="#E2472F"/>
<text class="s" x="1415.95" y="568.11" font-size="15.8" fill="#4D4D4D" text-anchor="end" stroke="#4D4D4D">PI182478</text>
<rect x="1447.80" y="576.48" width="493.17" height="26.85" fill="#fff"/>
<rect x="1449.40" y="578.10" width="24.80" height="23.60" fill="#8D97BB"/>
<rect x="1474.20" y="578.10" width="84.31" height="23.60" fill="#EE9B80"/>
<rect x="1558.50" y="578.10" width="338.12" height="23.60" fill="#44548A"/>
<rect x="1896.62" y="578.10" width="38.32" height="23.60" fill="#57B894"/>
<rect x="1934.64" y="578.10" width="0.80" height="23.60" fill="#88D0DC"/>
<rect x="1935.44" y="578.10" width="3.92" height="23.60" fill="#E2472F"/>
<text class="s" x="1415.95" y="594.96" font-size="15.8" fill="#4D4D4D" text-anchor="end" stroke="#4D4D4D">PI258586</text>
<rect x="1447.80" y="603.32" width="493.17" height="26.85" fill="#fff"/>
<rect x="1449.40" y="604.95" width="10.94" height="23.60" fill="#8D97BB"/>
<rect x="1460.34" y="604.95" width="60.73" height="23.60" fill="#EE9B80"/>
<rect x="1521.07" y="604.95" width="380.57" height="23.60" fill="#44548A"/>
<rect x="1901.63" y="604.95" width="32.72" height="23.60" fill="#57B894"/>
<rect x="1934.05" y="604.95" width="0.80" height="23.60" fill="#88D0DC"/>
<rect x="1934.85" y="604.95" width="4.51" height="23.60" fill="#E2472F"/>
<text class="s" x="1415.95" y="621.80" font-size="15.8" fill="#4D4D4D" text-anchor="end" stroke="#4D4D4D">RHAPSODY</text>
<rect x="1447.80" y="630.17" width="493.17" height="26.85" fill="#fff"/>
<rect x="1449.40" y="631.79" width="56.04" height="23.60" fill="#8D97BB"/>
<rect x="1505.44" y="631.79" width="94.63" height="23.60" fill="#EE9B80"/>
<rect x="1600.07" y="631.79" width="304.81" height="23.60" fill="#44548A"/>
<rect x="1904.88" y="631.79" width="27.71" height="23.60" fill="#57B894"/>
<rect x="1932.29" y="631.79" width="0.80" height="23.60" fill="#88D0DC"/>
<rect x="1933.09" y="631.79" width="6.28" height="23.60" fill="#E2472F"/>
<text class="s" x="1415.95" y="648.65" font-size="15.8" fill="#4D4D4D" text-anchor="end" stroke="#4D4D4D">SANG</text>
<rect x="1447.80" y="657.01" width="493.17" height="26.85" fill="#fff"/>
<rect x="1449.40" y="658.63" width="12.41" height="23.60" fill="#8D97BB"/>
<rect x="1461.81" y="658.63" width="66.33" height="23.60" fill="#EE9B80"/>
<rect x="1528.14" y="658.63" width="374.38" height="23.60" fill="#44548A"/>
<rect x="1902.52" y="658.63" width="30.95" height="23.60" fill="#57B894"/>
<rect x="1933.17" y="658.63" width="0.80" height="23.60" fill="#88D0DC"/>
<rect x="1933.97" y="658.63" width="5.40" height="23.60" fill="#E2472F"/>
<text class="s" x="1415.95" y="675.49" font-size="15.8" fill="#4D4D4D" text-anchor="end" stroke="#4D4D4D">A.STERILIS.TN1</text>
<rect x="1447.80" y="683.86" width="493.17" height="26.85" fill="#fff"/>
<rect x="1449.40" y="685.48" width="9.76" height="23.60" fill="#8D97BB"/>
<rect x="1459.16" y="685.48" width="47.46" height="23.60" fill="#EE9B80"/>
<rect x="1506.62" y="685.48" width="395.60" height="23.60" fill="#44548A"/>
<rect x="1902.22" y="685.48" width="31.84" height="23.60" fill="#57B894"/>
<rect x="1933.76" y="685.48" width="0.80" height="23.60" fill="#88D0DC"/>
<rect x="1934.56" y="685.48" width="4.81" height="23.60" fill="#E2472F"/>
<text class="s" x="1415.95" y="702.34" font-size="15.8" fill="#4D4D4D" text-anchor="end" stroke="#4D4D4D">A.STERILIS.TN4</text>
<rect x="1447.80" y="710.70" width="493.17" height="26.85" fill="#fff"/>
<rect x="1449.40" y="712.33" width="11.53" height="23.60" fill="#8D97BB"/>
<rect x="1460.93" y="712.33" width="65.44" height="23.60" fill="#EE9B80"/>
<rect x="1526.37" y="712.33" width="377.91" height="23.60" fill="#44548A"/>
<rect x="1904.29" y="712.33" width="30.36" height="23.60" fill="#57B894"/>
<rect x="1934.35" y="712.33" width="0.80" height="23.60" fill="#88D0DC"/>
<rect x="1935.15" y="712.33" width="4.22" height="23.60" fill="#E2472F"/>
<text class="s" x="1415.95" y="729.18" font-size="15.8" fill="#4D4D4D" text-anchor="end" stroke="#4D4D4D">VICTORIA</text>
<rect x="1447.80" y="737.55" width="493.17" height="26.85" fill="#fff"/>
<rect x="1449.40" y="739.17" width="40.42" height="23.60" fill="#8D97BB"/>
<rect x="1489.82" y="739.17" width="412.70" height="23.60" fill="#EE9B80"/>
<rect x="1902.52" y="739.17" width="16.80" height="23.60" fill="#44548A"/>
<rect x="1919.32" y="739.17" width="14.15" height="23.60" fill="#57B894"/>
<rect x="1933.17" y="739.17" width="0.80" height="23.60" fill="#88D0DC"/>
<rect x="1933.97" y="739.17" width="5.40" height="23.60" fill="#E2472F"/>
<text class="s" x="1415.95" y="756.03" font-size="15.8" fill="#4D4D4D" text-anchor="end" stroke="#4D4D4D">INSULARIS</text>
<rect x="1447.80" y="764.39" width="493.17" height="26.85" fill="#fff"/>
<rect x="1449.40" y="766.01" width="448.70" height="23.60" fill="#8D97BB"/>
<rect x="1898.10" y="766.01" width="21.81" height="23.60" fill="#EE9B80"/>
<rect x="1919.91" y="766.01" width="2.36" height="23.60" fill="#44548A"/>
<rect x="1922.27" y="766.01" width="1.18" height="23.60" fill="#57B894"/>
<rect x="1923.45" y="766.01" width="2.65" height="23.60" fill="#88D0DC"/>
<rect x="1926.10" y="766.01" width="13.27" height="23.60" fill="#E2472F"/>
<text class="s" x="1415.95" y="782.87" font-size="15.8" fill="#4D4D4D" text-anchor="end" stroke="#4D4D4D">ATLANTICA</text>
<rect x="1447.80" y="791.24" width="493.17" height="26.85" fill="#fff"/>
<rect x="1449.40" y="792.86" width="448.11" height="23.60" fill="#8D97BB"/>
<rect x="1897.51" y="792.86" width="22.40" height="23.60" fill="#EE9B80"/>
<rect x="1919.91" y="792.86" width="1.77" height="23.60" fill="#44548A"/>
<rect x="1921.68" y="792.86" width="0.88" height="23.60" fill="#57B894"/>
<rect x="1922.56" y="792.86" width="2.65" height="23.60" fill="#88D0DC"/>
<rect x="1925.22" y="792.86" width="14.15" height="23.60" fill="#E2472F"/>
<text class="s" x="1415.95" y="809.72" font-size="15.8" fill="#4D4D4D" text-anchor="end" stroke="#4D4D4D">ERIANTHA</text>
<rect x="1447.80" y="818.08" width="493.17" height="26.85" fill="#fff"/>
<rect x="1449.40" y="819.71" width="451.94" height="23.60" fill="#8D97BB"/>
<rect x="1901.34" y="819.71" width="20.34" height="23.60" fill="#EE9B80"/>
<rect x="1921.68" y="819.71" width="2.06" height="23.60" fill="#44548A"/>
<rect x="1923.74" y="819.71" width="1.18" height="23.60" fill="#57B894"/>
<rect x="1924.92" y="819.71" width="2.65" height="23.60" fill="#88D0DC"/>
<rect x="1927.57" y="819.71" width="11.79" height="23.60" fill="#E2472F"/>
<text class="s" x="1415.95" y="836.56" font-size="15.8" fill="#4D4D4D" text-anchor="end" stroke="#4D4D4D">LONGIGLUMIS</text>
<text class="s" x="1449.40" y="868.96" font-size="15.8" fill="#4D4D4D" text-anchor="middle" stroke="#4D4D4D">0</text>
<text class="s" x="1549.40" y="868.96" font-size="15.8" fill="#4D4D4D" text-anchor="middle" stroke="#4D4D4D">1000</text>
<text class="s" x="1649.40" y="868.96" font-size="15.8" fill="#4D4D4D" text-anchor="middle" stroke="#4D4D4D">2000</text>
<text class="s" x="1749.40" y="868.96" font-size="15.8" fill="#4D4D4D" text-anchor="middle" stroke="#4D4D4D">3000</text>
<text class="s" x="1849.40" y="868.96" font-size="15.8" fill="#4D4D4D" text-anchor="middle" stroke="#4D4D4D">4000</text>
<text class="s" x="1949.40" y="868.96" font-size="15.8" fill="#4D4D4D" text-anchor="middle" stroke="#4D4D4D">5000</text>
<text class="s" x="1693.60" y="891.70" font-size="19.8" fill="#000" text-anchor="middle" font-weight="bold" stroke="#000">busco count</text>
<text class="s" x="1293.60" y="442.00" font-size="19.8" fill="#000" text-anchor="middle" font-weight="bold" transform="rotate(-90 1293.60 442.00)" stroke="#000">genotype</text>
<text class="s" x="1694.20" y="21.80" font-size="23.9" fill="#000" text-anchor="middle" font-weight="bold" stroke="#000">busco counts by genotype and status</text>
<text class="s" x="1993.70" y="350.40" font-size="19.8" fill="#000" stroke="#000">status</text>
<rect x="1995.00" y="364.40" width="28.40" height="28.20" fill="#E2472F"/>
<text class="s" x="2035.00" y="384.16" font-size="15.8" fill="#000" stroke="#000">missing</text>
<rect x="1995.00" y="395.68" width="28.40" height="28.20" fill="#88D0DC"/>
<text class="s" x="2035.00" y="415.44" font-size="15.8" fill="#000" stroke="#000">fragmented</text>
<rect x="1995.00" y="426.96" width="28.40" height="28.20" fill="#57B894"/>
<text class="s" x="2035.00" y="446.72" font-size="15.8" fill="#000" stroke="#000">above_3</text>
<rect x="1995.00" y="458.24" width="28.40" height="28.20" fill="#44548A"/>
<text class="s" x="2035.00" y="478.00" font-size="15.8" fill="#000" stroke="#000">triples</text>
<rect x="1995.00" y="489.52" width="28.40" height="28.20" fill="#EE9B80"/>
<text class="s" x="2035.00" y="509.28" font-size="15.8" fill="#000" stroke="#000">exact_duplicated</text>
<rect x="1995.00" y="520.80" width="28.40" height="28.20" fill="#8D97BB"/>
<text class="s" x="2035.00" y="540.56" font-size="15.8" fill="#000" stroke="#000">complete</text>
</g>
<g id="panel-c">
<rect x="126.45" y="1687.40" width="24.70" height="24.50" fill="#C82D23"/>
<rect x="154.20" y="1694.60" width="24.70" height="17.30" fill="#4E9EA3"/>
<rect x="181.95" y="1695.60" width="24.70" height="16.30" fill="#4E9EA3"/>
<rect x="209.70" y="1695.90" width="24.70" height="16.00" fill="#4E9EA3"/>
<rect x="237.45" y="1697.60" width="24.70" height="14.30" fill="#4E9EA3"/>
<rect x="265.20" y="1699.00" width="24.70" height="12.90" fill="#4E9EA3"/>
<rect x="292.95" y="1699.70" width="24.70" height="12.20" fill="#4E9EA3"/>
<rect x="320.70" y="1700.00" width="24.70" height="11.90" fill="#4E9EA3"/>
<rect x="348.45" y="1700.00" width="24.70" height="11.90" fill="#4E9EA3"/>
<rect x="376.20" y="1700.00" width="24.70" height="11.90" fill="#4E9EA3"/>
<rect x="403.95" y="1699.70" width="24.70" height="12.20" fill="#4E9EA3"/>
<rect x="431.70" y="1698.30" width="24.70" height="13.60" fill="#4E9EA3"/>
<rect x="459.45" y="1698.60" width="24.70" height="13.30" fill="#4E9EA3"/>
<rect x="487.20" y="1697.30" width="24.70" height="14.60" fill="#4E9EA3"/>
<rect x="514.95" y="1695.60" width="24.70" height="16.30" fill="#4E9EA3"/>
<rect x="542.70" y="1693.50" width="24.70" height="18.40" fill="#4E9EA3"/>
<rect x="570.45" y="1692.20" width="24.70" height="19.70" fill="#4E9EA3"/>
<rect x="598.20" y="1689.50" width="24.70" height="22.40" fill="#4E9EA3"/>
<rect x="625.95" y="1687.80" width="24.70" height="24.10" fill="#4E9EA3"/>
<rect x="653.70" y="1684.70" width="24.70" height="27.20" fill="#4E9EA3"/>
<rect x="681.45" y="1680.60" width="24.70" height="31.30" fill="#4E9EA3"/>
<rect x="709.20" y="1675.20" width="24.70" height="36.70" fill="#4E9EA3"/>
<rect x="736.95" y="1671.80" width="24.70" height="40.10" fill="#4E9EA3"/>
<rect x="764.70" y="1657.50" width="24.70" height="54.40" fill="#4E9EA3"/>
<rect x="792.45" y="1638.80" width="24.70" height="73.10" fill="#4E9EA3"/>
<rect x="820.20" y="1612.60" width="24.70" height="99.30" fill="#4E9EA3"/>
<rect x="847.95" y="1550.30" width="24.70" height="161.60" fill="#4E9EA3"/>
<rect x="875.70" y="1416.00" width="24.70" height="295.90" fill="#4E9EA3"/>
<rect x="903.45" y="1341.60" width="24.70" height="370.30" fill="#4E9EA3"/>
<rect x="931.20" y="982.00" width="24.70" height="729.90" fill="#E8691F"/>
<text class="s" x="75.70" y="1717.26" font-size="14.7" fill="#4D4D4D" text-anchor="end" stroke="#4D4D4D">0</text>
<text class="s" x="75.70" y="1524.01" font-size="14.7" fill="#4D4D4D" text-anchor="end" stroke="#4D4D4D">250000</text>
<text class="s" x="75.70" y="1330.76" font-size="14.7" fill="#4D4D4D" text-anchor="end" stroke="#4D4D4D">500000</text>
<text class="s" x="75.70" y="1137.51" font-size="14.7" fill="#4D4D4D" text-anchor="end" stroke="#4D4D4D">750000</text>
<text class="s" x="110.30" y="1767.46" font-size="14.7" fill="#4D4D4D" text-anchor="middle" stroke="#4D4D4D">0</text>
<text class="s" x="387.90" y="1767.46" font-size="14.7" fill="#4D4D4D" text-anchor="middle" stroke="#4D4D4D">10</text>
<text class="s" x="665.50" y="1767.46" font-size="14.7" fill="#4D4D4D" text-anchor="middle" stroke="#4D4D4D">20</text>
<text class="s" x="943.10" y="1767.46" font-size="14.7" fill="#4D4D4D" text-anchor="middle" stroke="#4D4D4D">30</text>
<text class="s" x="540.60" y="1789.10" font-size="18.4" fill="#000" text-anchor="middle" font-weight="bold" stroke="#000">number of genotypes</text>
<text class="s" x="17.40" y="1347.30" font-size="18.7" fill="#000" text-anchor="middle" font-weight="bold" transform="rotate(-90 17.40 1347.30)" stroke="#000">sum of genes</text>
<text class="s" x="540.50" y="931.30" font-size="22.45" fill="#000" text-anchor="middle" font-weight="bold" stroke="#000">sum of genes by genotype in core/shell/cloud</text>
<path d="M527.60 1330.00 L526.43 1106.20 A223.8 223.8 0 1 1 336.47 1446.44 Z" fill="#4E9EA3"/>
<path d="M527.60 1330.00 L337.09 1447.43 A223.8 223.8 0 0 1 513.35 1106.65 Z" fill="#E8691F"/>
<path d="M527.60 1330.00 L512.18 1106.73 A223.8 223.8 0 0 1 527.60 1106.20 Z" fill="#C82D23"/>
<text class="s" x="527.20" y="1042.20" font-size="14.85" fill="#000" text-anchor="middle" font-weight="bold" stroke="#000">percentages of core/shell/cloud</text>
<text class="s" x="523.50" y="1222.88" font-size="11.4" fill="#1a1a1a" text-anchor="middle" stroke="#1a1a1a">1.1%</text>
<text class="s" x="427.60" y="1283.78" font-size="11.4" fill="#1a1a1a" text-anchor="middle" stroke="#1a1a1a">32.7%</text>
<text class="s" x="624.80" y="1389.48" font-size="11.4" fill="#1a1a1a" text-anchor="middle" stroke="#1a1a1a">66.2%</text>
<text class="s" x="1025.00" y="1307.80" font-size="18.4" fill="#000" stroke="#000">status</text>
<rect x="1026.50" y="1321.50" width="24.80" height="24.30" fill="#C82D23"/>
<text class="s" x="1061.20" y="1338.41" font-size="14.7" fill="#000" stroke="#000">cloud</text>
<rect x="1026.50" y="1348.45" width="24.80" height="24.30" fill="#E8691F"/>
<text class="s" x="1061.20" y="1365.36" font-size="14.7" fill="#000" stroke="#000">core</text>
<rect x="1026.50" y="1375.40" width="24.80" height="24.30" fill="#4E9EA3"/>
<text class="s" x="1061.20" y="1392.31" font-size="14.7" fill="#000" stroke="#000">shell</text>
</g>
<g id="panel-d">
<rect x="1382.60" y="958.45" width="185.70" height="24.60" fill="#E8691F"/>
<rect x="1568.30" y="958.45" width="354.42" height="24.60" fill="#4E9EA3"/>
<rect x="1922.72" y="958.45" width="25.48" height="24.60" fill="#C82D23"/>
<text class="s" x="1343.60" y="977.66" font-size="17.9" fill="#4D4D4D" text-anchor="end" stroke="#4D4D4D">AMAGALON</text>
<rect x="1382.60" y="986.13" width="184.68" height="24.60" fill="#E8691F"/>
<rect x="1567.28" y="986.13" width="378.91" height="24.60" fill="#4E9EA3"/>
<rect x="1946.19" y="986.13" width="2.01" height="24.60" fill="#C82D23"/>
<text class="s" x="1343.60" y="1005.34" font-size="17.9" fill="#4D4D4D" text-anchor="end" stroke="#4D4D4D">ASLAK</text>
<rect x="1382.60" y="1013.82" width="184.68" height="24.60" fill="#E8691F"/>
<rect x="1567.28" y="1013.82" width="377.89" height="24.60" fill="#4E9EA3"/>
<rect x="1945.17" y="1013.82" width="3.03" height="24.60" fill="#C82D23"/>
<text class="s" x="1343.60" y="1033.02" font-size="17.9" fill="#4D4D4D" text-anchor="end" stroke="#4D4D4D">BANNISTER</text>
<rect x="1382.60" y="1041.50" width="184.68" height="24.60" fill="#E8691F"/>
<rect x="1567.28" y="1041.50" width="378.23" height="24.60" fill="#4E9EA3"/>
<rect x="1945.51" y="1041.50" width="2.69" height="24.60" fill="#C82D23"/>
<text class="s" x="1343.60" y="1060.71" font-size="17.9" fill="#4D4D4D" text-anchor="end" stroke="#4D4D4D">BILBY</text>
<rect x="1382.60" y="1069.18" width="185.02" height="24.60" fill="#E8691F"/>
<rect x="1567.62" y="1069.18" width="379.25" height="24.60" fill="#4E9EA3"/>
<rect x="1946.87" y="1069.18" width="1.33" height="24.60" fill="#C82D23"/>
<text class="s" x="1343.60" y="1088.39" font-size="17.9" fill="#4D4D4D" text-anchor="end" stroke="#4D4D4D">BINGO</text>
<rect x="1382.60" y="1096.87" width="184.68" height="24.60" fill="#E8691F"/>
<rect x="1567.28" y="1096.87" width="378.57" height="24.60" fill="#4E9EA3"/>
<rect x="1945.85" y="1096.87" width="2.35" height="24.60" fill="#C82D23"/>
<text class="s" x="1343.60" y="1116.07" font-size="17.9" fill="#4D4D4D" text-anchor="end" stroke="#4D4D4D">CLINTLAND60</text>
<rect x="1382.60" y="1124.55" width="184.00" height="24.60" fill="#E8691F"/>
<rect x="1566.60" y="1124.55" width="377.89" height="24.60" fill="#4E9EA3"/>
<rect x="1944.49" y="1124.55" width="3.71" height="24.60" fill="#C82D23"/>
<text class="s" x="1343.60" y="1143.76" font-size="17.9" fill="#4D4D4D" text-anchor="end" stroke="#4D4D4D">DELFIN</text>
<rect x="1382.60" y="1152.23" width="187.06" height="24.60" fill="#E8691F"/>
<rect x="1569.66" y="1152.23" width="371.77" height="24.60" fill="#4E9EA3"/>
<rect x="1941.43" y="1152.23" width="6.77" height="24.60" fill="#C82D23"/>
<text class="s" x="1343.60" y="1171.44" font-size="17.9" fill="#4D4D4D" text-anchor="end" stroke="#4D4D4D">CN25955</text>
<rect x="1382.60" y="1179.91" width="184.68" height="24.60" fill="#E8691F"/>
<rect x="1567.28" y="1179.91" width="374.49" height="24.60" fill="#4E9EA3"/>
<rect x="1941.77" y="1179.91" width="6.43" height="24.60" fill="#C82D23"/>
<text class="s" x="1343.60" y="1199.12" font-size="17.9" fill="#4D4D4D" text-anchor="end" stroke="#4D4D4D">FM13</text>
<rect x="1382.60" y="1207.60" width="177.54" height="24.60" fill="#E8691F"/>
<rect x="1560.14" y="1207.60" width="374.49" height="24.60" fill="#4E9EA3"/>
<rect x="1934.63" y="1207.60" width="13.57" height="24.60" fill="#C82D23"/>
<text class="s" x="1343.60" y="1226.81" font-size="17.9" fill="#4D4D4D" text-anchor="end" stroke="#4D4D4D">GEHL</text>
<rect x="1382.60" y="1235.28" width="184.68" height="24.60" fill="#E8691F"/>
<rect x="1567.28" y="1235.28" width="379.25" height="24.60" fill="#4E9EA3"/>
<rect x="1946.53" y="1235.28" width="1.67" height="24.60" fill="#C82D23"/>
<text class="s" x="1343.60" y="1254.49" font-size="17.9" fill="#4D4D4D" text-anchor="end" stroke="#4D4D4D">GMI423</text>
<rect x="1382.60" y="1262.96" width="184.68" height="24.60" fill="#E8691F"/>
<rect x="1567.28" y="1262.96" width="377.55" height="24.60" fill="#4E9EA3"/>
<rect x="1944.83" y="1262.96" width="3.37" height="24.60" fill="#C82D23"/>
<text class="s" x="1343.60" y="1282.17" font-size="17.9" fill="#4D4D4D" text-anchor="end" stroke="#4D4D4D">GS7</text>
<rect x="1382.60" y="1290.65" width="184.00" height="24.60" fill="#E8691F"/>
<rect x="1566.60" y="1290.65" width="379.59" height="24.60" fill="#4E9EA3"/>
<rect x="1946.19" y="1290.65" width="2.01" height="24.60" fill="#C82D23"/>
<text class="s" x="1343.60" y="1309.85" font-size="17.9" fill="#4D4D4D" text-anchor="end" stroke="#4D4D4D">HATIVES</text>
<rect x="1382.60" y="1318.33" width="184.68" height="24.60" fill="#E8691F"/>
<rect x="1567.28" y="1318.33" width="377.21" height="24.60" fill="#4E9EA3"/>
<rect x="1944.49" y="1318.33" width="3.71" height="24.60" fill="#C82D23"/>
<text class="s" x="1343.60" y="1337.54" font-size="17.9" fill="#4D4D4D" text-anchor="end" stroke="#4D4D4D">HIFI</text>
<rect x="1382.60" y="1346.01" width="185.02" height="24.60" fill="#E8691F"/>
<rect x="1567.62" y="1346.01" width="378.57" height="24.60" fill="#4E9EA3"/>
<rect x="1946.19" y="1346.01" width="2.01" height="24.60" fill="#C82D23"/>
<text class="s" x="1343.60" y="1365.22" font-size="17.9" fill="#4D4D4D" text-anchor="end" stroke="#4D4D4D">LION</text>
<rect x="1382.60" y="1373.69" width="178.22" height="24.60" fill="#E8691F"/>
<rect x="1560.82" y="1373.69" width="374.49" height="24.60" fill="#4E9EA3"/>
<rect x="1935.31" y="1373.69" width="12.89" height="24.60" fill="#C82D23"/>
<text class="s" x="1343.60" y="1392.90" font-size="17.9" fill="#4D4D4D" text-anchor="end" stroke="#4D4D4D">NICOLAS</text>
<rect x="1382.60" y="1401.38" width="184.68" height="24.60" fill="#E8691F"/>
<rect x="1567.28" y="1401.38" width="378.57" height="24.60" fill="#4E9EA3"/>
<rect x="1945.85" y="1401.38" width="2.35" height="24.60" fill="#C82D23"/>
<text class="s" x="1343.60" y="1420.59" font-size="17.9" fill="#4D4D4D" text-anchor="end" stroke="#4D4D4D">OT3098</text>
<rect x="1382.60" y="1429.06" width="185.70" height="24.60" fill="#E8691F"/>
<rect x="1568.30" y="1429.06" width="378.57" height="24.60" fill="#4E9EA3"/>
<rect x="1946.87" y="1429.06" width="1.33" height="24.60" fill="#C82D23"/>
<text class="s" x="1343.60" y="1448.27" font-size="17.9" fill="#4D4D4D" text-anchor="end" stroke="#4D4D4D">OT380</text>
<rect x="1382.60" y="1456.74" width="182.98" height="24.60" fill="#E8691F"/>
<rect x="1565.58" y="1456.74" width="378.91" height="24.60" fill="#4E9EA3"/>
<rect x="1944.49" y="1456.74" width="3.71" height="24.60" fill="#C82D23"/>
<text class="s" x="1343.60" y="1475.95" font-size="17.9" fill="#4D4D4D" text-anchor="end" stroke="#4D4D4D">PARK</text>
<rect x="1382.60" y="1484.43" width="185.02" height="24.60" fill="#E8691F"/>
<rect x="1567.62" y="1484.43" width="377.89" height="24.60" fill="#4E9EA3"/>
<rect x="1945.51" y="1484.43" width="2.69" height="24.60" fill="#C82D23"/>
<text class="s" x="1343.60" y="1503.64" font-size="17.9" fill="#4D4D4D" text-anchor="end" stroke="#4D4D4D">PI182478</text>
<rect x="1382.60" y="1512.11" width="182.98" height="24.60" fill="#E8691F"/>
<rect x="1565.58" y="1512.11" width="361.22" height="24.60" fill="#4E9EA3"/>
<rect x="1926.80" y="1512.11" width="21.40" height="24.60" fill="#C82D23"/>
<text class="s" x="1343.60" y="1531.32" font-size="17.9" fill="#4D4D4D" text-anchor="end" stroke="#4D4D4D">PI258586</text>
<rect x="1382.60" y="1539.79" width="185.70" height="24.60" fill="#E8691F"/>
<rect x="1568.30" y="1539.79" width="376.53" height="24.60" fill="#4E9EA3"/>
<rect x="1944.83" y="1539.79" width="3.37" height="24.60" fill="#C82D23"/>
<text class="s" x="1343.60" y="1559.00" font-size="17.9" fill="#4D4D4D" text-anchor="end" stroke="#4D4D4D">RHAPSODY</text>
<rect x="1382.60" y="1567.48" width="177.54" height="24.60" fill="#E8691F"/>
<rect x="1560.14" y="1567.48" width="375.85" height="24.60" fill="#4E9EA3"/>
<rect x="1935.99" y="1567.48" width="12.21" height="24.60" fill="#C82D23"/>
<text class="s" x="1343.60" y="1586.68" font-size="17.9" fill="#4D4D4D" text-anchor="end" stroke="#4D4D4D">SANG</text>
<rect x="1382.60" y="1595.16" width="185.02" height="24.60" fill="#E8691F"/>
<rect x="1567.62" y="1595.16" width="375.85" height="24.60" fill="#4E9EA3"/>
<rect x="1943.47" y="1595.16" width="4.73" height="24.60" fill="#C82D23"/>
<text class="s" x="1343.60" y="1614.37" font-size="17.9" fill="#4D4D4D" text-anchor="end" stroke="#4D4D4D">A.STERILIS.TN1</text>
<rect x="1382.60" y="1622.84" width="183.66" height="24.60" fill="#E8691F"/>
<rect x="1566.26" y="1622.84" width="372.11" height="24.60" fill="#4E9EA3"/>
<rect x="1938.37" y="1622.84" width="9.83" height="24.60" fill="#C82D23"/>
<text class="s" x="1343.60" y="1642.05" font-size="17.9" fill="#4D4D4D" text-anchor="end" stroke="#4D4D4D">A.STERILIS.TN4</text>
<rect x="1382.60" y="1650.53" width="183.66" height="24.60" fill="#E8691F"/>
<rect x="1566.26" y="1650.53" width="377.21" height="24.60" fill="#4E9EA3"/>
<rect x="1943.47" y="1650.53" width="4.73" height="24.60" fill="#C82D23"/>
<text class="s" x="1343.60" y="1669.73" font-size="17.9" fill="#4D4D4D" text-anchor="end" stroke="#4D4D4D">VICTORIA</text>
<rect x="1382.60" y="1678.21" width="187.74" height="24.60" fill="#E8691F"/>
<rect x="1570.34" y="1678.21" width="369.73" height="24.60" fill="#4E9EA3"/>
<rect x="1940.07" y="1678.21" width="8.13" height="24.60" fill="#C82D23"/>
<text class="s" x="1343.60" y="1697.42" font-size="17.9" fill="#4D4D4D" text-anchor="end" stroke="#4D4D4D">INSULARIS</text>
<rect x="1382.60" y="1705.89" width="205.09" height="24.60" fill="#E8691F"/>
<rect x="1587.69" y="1705.89" width="352.38" height="24.60" fill="#4E9EA3"/>
<rect x="1940.07" y="1705.89" width="8.13" height="24.60" fill="#C82D23"/>
<text class="s" x="1343.60" y="1725.10" font-size="17.9" fill="#4D4D4D" text-anchor="end" stroke="#4D4D4D">ATLANTICA</text>
<rect x="1382.60" y="1733.57" width="225.84" height="24.60" fill="#E8691F"/>
<rect x="1608.44" y="1733.57" width="325.17" height="24.60" fill="#4E9EA3"/>
<rect x="1933.61" y="1733.57" width="14.59" height="24.60" fill="#C82D23"/>
<text class="s" x="1343.60" y="1752.78" font-size="17.9" fill="#4D4D4D" text-anchor="end" stroke="#4D4D4D">ERIANTHA</text>
<rect x="1382.60" y="1761.26" width="195.90" height="24.60" fill="#E8691F"/>
<rect x="1578.50" y="1761.26" width="363.61" height="24.60" fill="#4E9EA3"/>
<rect x="1942.11" y="1761.26" width="6.09" height="24.60" fill="#C82D23"/>
<text class="s" x="1343.60" y="1780.47" font-size="17.9" fill="#4D4D4D" text-anchor="end" stroke="#4D4D4D">LONGIGLUMIS</text>
<text class="s" x="1382.60" y="1813.91" font-size="17.9" fill="#4D4D4D" text-anchor="middle" stroke="#4D4D4D">0</text>
<text class="s" x="1524.00" y="1813.91" font-size="17.9" fill="#4D4D4D" text-anchor="middle" stroke="#4D4D4D">25</text>
<text class="s" x="1665.40" y="1813.91" font-size="17.9" fill="#4D4D4D" text-anchor="middle" stroke="#4D4D4D">50</text>
<text class="s" x="1806.80" y="1813.91" font-size="17.9" fill="#4D4D4D" text-anchor="middle" stroke="#4D4D4D">75</text>
<text class="s" x="1948.20" y="1813.91" font-size="17.9" fill="#4D4D4D" text-anchor="middle" stroke="#4D4D4D">100</text>
<text class="s" x="1665.50" y="1839.20" font-size="22.4" fill="#000" text-anchor="middle" font-weight="bold" stroke="#000">percentage</text>
<text class="s" x="1205.20" y="1372.00" font-size="22.4" fill="#000" text-anchor="middle" font-weight="bold" transform="rotate(-90 1205.20 1372.00)" stroke="#000">genotype</text>
<text class="s" x="1665.00" y="936.00" font-size="27.15" fill="#000" text-anchor="middle" font-weight="bold" stroke="#000">core/shell/cloud composition</text>
<text class="s" x="2010.90" y="1324.80" font-size="22.4" fill="#000" stroke="#000">category</text>
<rect x="2012.40" y="1341.20" width="29.90" height="29.50" fill="#C82D23"/>
<text class="s" x="2054.80" y="1362.86" font-size="17.9" fill="#000" stroke="#000">cloud</text>
<rect x="2012.40" y="1373.75" width="29.90" height="29.50" fill="#4E9EA3"/>
<text class="s" x="2054.80" y="1395.41" font-size="17.9" fill="#000" stroke="#000">shell</text>
<rect x="2012.40" y="1406.30" width="29.90" height="29.50" fill="#E8691F"/>
<text class="s" x="2054.80" y="1427.96" font-size="17.9" fill="#000" stroke="#000">core</text>
</g>
<g id="panel-e">
<path d="M298.1 2112.0 L298.1 2120.0 L298.0 2128.0 L298.0 2136.0 L297.9 2144.0 L297.9 2152.0 L297.8 2160.0 L297.8 2168.0 L297.7 2176.0 L297.7 2184.0 L297.6 2192.0 L297.5 2200.0 L297.5 2208.0 L297.4 2216.0 L297.2 2224.0 L297.0 2232.0 L296.7 2236.0 L296.4 2238.5 L296.0 2241.0 L295.6 2243.0 L295.3 2245.0 L294.9 2247.0 L294.6 2248.5 L294.2 2250.0 L293.9 2251.5 L293.6 2253.0 L293.3 2254.5 L292.9 2256.0 L292.6 2257.5 L292.3 2259.0 L292.0 2260.5 L291.7 2262.0 L291.3 2263.5 L290.9 2265.0 L290.6 2266.5 L290.2 2268.0 L289.7 2269.5 L289.3 2271.0 L288.9 2272.5 L288.5 2274.0 L288.0 2275.6 L287.6 2277.1 L287.2 2278.6 L286.7 2280.1 L286.3 2281.6 L285.9 2283.1 L285.5 2284.6 L285.1 2286.1 L284.7 2287.6 L284.3 2289.1 L284.0 2290.6 L283.6 2292.1 L283.2 2293.6 L282.8 2295.1 L282.5 2296.6 L282.0 2298.1 L281.6 2299.6 L281.2 2301.1 L280.9 2302.6 L280.5 2304.1 L280.1 2305.6 L279.8 2307.1 L279.4 2308.6 L279.0 2310.6 L278.7 2312.6 L278.4 2315.1 L278.2 2323.1 L278.5 2328.6 L278.8 2332.1 L279.1 2335.1 L279.4 2337.6 L279.8 2340.1 L280.1 2342.6 L280.5 2345.1 L280.8 2347.6 L281.1 2350.1 L281.4 2352.6 L281.8 2355.1 L282.1 2357.1 L282.5 2359.1 L282.8 2361.1 L283.2 2363.1 L283.5 2365.1 L283.9 2367.1 L284.3 2369.1 L284.6 2371.1 L285.0 2373.1 L285.3 2375.1 L285.6 2377.1 L286.0 2379.1 L286.3 2381.6 L286.6 2383.6 L287.0 2385.6 L287.3 2387.6 L287.6 2389.6 L287.9 2391.6 L288.2 2393.6 L288.6 2396.1 L288.9 2398.6 L289.2 2401.1 L289.6 2404.1 L289.9 2407.6 L290.2 2412.1 L290.6 2417.1 L290.9 2422.6 L291.1 2430.6 L290.8 2435.1 L290.4 2437.1 L290.1 2438.6 L289.1 2441.5 L286.1 2444.0 L276.6 2448.0 L262.5 2451.3 L278.1 2457.0 L292.1 2461.0 L298.1 2462.0 L298.1 2462.0 L304.1 2461.0 L318.1 2457.0 L333.7 2451.3 L319.6 2448.0 L310.1 2444.0 L307.1 2441.5 L306.1 2438.6 L305.8 2437.1 L305.4 2435.1 L305.1 2430.6 L305.3 2422.6 L305.6 2417.1 L306.0 2412.1 L306.3 2407.6 L306.6 2404.1 L307.0 2401.1 L307.3 2398.6 L307.6 2396.1 L308.0 2393.6 L308.3 2391.6 L308.6 2389.6 L308.9 2387.6 L309.2 2385.6 L309.6 2383.6 L309.9 2381.6 L310.2 2379.1 L310.6 2377.1 L310.9 2375.1 L311.2 2373.1 L311.6 2371.1 L311.9 2369.1 L312.3 2367.1 L312.7 2365.1 L313.0 2363.1 L313.4 2361.1 L313.7 2359.1 L314.1 2357.1 L314.4 2355.1 L314.8 2352.6 L315.1 2350.1 L315.4 2347.6 L315.7 2345.1 L316.1 2342.6 L316.4 2340.1 L316.8 2337.6 L317.1 2335.1 L317.4 2332.1 L317.7 2328.6 L318.0 2323.1 L317.8 2315.1 L317.5 2312.6 L317.2 2310.6 L316.8 2308.6 L316.4 2307.1 L316.1 2305.6 L315.7 2304.1 L315.3 2302.6 L315.0 2301.1 L314.6 2299.6 L314.2 2298.1 L313.7 2296.6 L313.4 2295.1 L313.0 2293.6 L312.6 2292.1 L312.2 2290.6 L311.9 2289.1 L311.5 2287.6 L311.1 2286.1 L310.7 2284.6 L310.3 2283.1 L309.9 2281.6 L309.5 2280.1 L309.0 2278.6 L308.6 2277.1 L308.2 2275.6 L307.7 2274.0 L307.3 2272.5 L306.9 2271.0 L306.5 2269.5 L306.0 2268.0 L305.6 2266.5 L305.3 2265.0 L304.9 2263.5 L304.5 2262.0 L304.2 2260.5 L303.9 2259.0 L303.6 2257.5 L303.3 2256.0 L302.9 2254.5 L302.6 2253.0 L302.3 2251.5 L302.0 2250.0 L301.6 2248.5 L301.3 2247.0 L300.9 2245.0 L300.6 2243.0 L300.2 2241.0 L299.8 2238.5 L299.5 2236.0 L299.2 2232.0 L299.0 2224.0 L298.8 2216.0 L298.7 2208.0 L298.7 2200.0 L298.6 2192.0 L298.5 2184.0 L298.5 2176.0 L298.4 2168.0 L298.4 2160.0 L298.3 2152.0 L298.3 2144.0 L298.2 2136.0 L298.2 2128.0 L298.1 2120.0 L298.1 2112.0 Z" fill="none" stroke="#F07A95" stroke-width="1.35" stroke-linejoin="round"/>
<path d="M298.1 2112.0 L298.1 2120.0 L298.0 2128.0 L298.0 2136.0 L297.9 2144.0 L297.9 2152.0 L297.8 2160.0 L297.8 2168.0 L297.7 2176.0 L297.7 2184.0 L297.6 2192.0 L297.5 2200.0 L297.5 2208.0 L297.4 2216.0 L297.2 2224.0 L297.0 2232.0 L296.7 2236.5 L296.3 2239.5 L296.0 2242.0 L295.7 2244.0 L295.4 2246.0 L295.0 2248.0 L294.7 2250.0 L294.3 2252.0 L293.9 2254.0 L293.6 2256.0 L293.2 2258.0 L292.8 2260.0 L292.5 2262.0 L292.2 2263.5 L291.8 2265.0 L291.5 2266.5 L291.2 2268.0 L290.8 2269.5 L290.4 2271.0 L290.1 2272.5 L289.7 2274.0 L289.3 2275.6 L288.9 2277.1 L288.5 2278.6 L288.1 2280.1 L287.8 2281.6 L287.4 2283.1 L287.0 2284.6 L286.7 2286.1 L286.4 2287.6 L286.0 2289.1 L285.7 2290.6 L285.4 2292.1 L285.1 2293.6 L284.8 2295.1 L284.4 2296.6 L284.1 2298.1 L283.7 2299.6 L283.4 2301.1 L283.0 2302.6 L282.7 2304.1 L282.4 2305.6 L282.1 2307.1 L281.7 2309.1 L281.3 2311.1 L281.0 2313.6 L280.7 2317.1 L280.7 2325.1 L281.0 2330.1 L281.3 2333.6 L281.7 2337.1 L282.0 2340.1 L282.3 2343.1 L282.7 2346.1 L283.0 2349.1 L283.3 2352.1 L283.6 2354.6 L284.0 2357.1 L284.3 2359.6 L284.7 2362.1 L285.0 2364.1 L285.3 2366.1 L285.6 2368.1 L285.9 2370.1 L286.3 2372.6 L286.6 2375.1 L286.9 2377.6 L287.3 2380.6 L287.6 2383.6 L288.0 2386.6 L288.3 2389.6 L288.6 2392.6 L288.9 2395.6 L289.3 2399.1 L289.6 2402.6 L289.9 2406.6 L290.2 2411.6 L290.5 2416.6 L290.8 2422.1 L291.1 2430.1 L290.8 2435.1 L290.4 2437.1 L290.1 2438.6 L289.1 2441.5 L287.0 2444.0 L278.2 2448.0 L265.1 2451.3 L279.6 2457.0 L292.1 2461.0 L298.1 2462.0 L298.1 2462.0 L304.1 2461.0 L316.6 2457.0 L331.1 2451.3 L318.0 2448.0 L309.2 2444.0 L307.1 2441.5 L306.1 2438.6 L305.8 2437.1 L305.4 2435.1 L305.1 2430.1 L305.4 2422.1 L305.7 2416.6 L306.0 2411.6 L306.3 2406.6 L306.6 2402.6 L306.9 2399.1 L307.3 2395.6 L307.6 2392.6 L307.9 2389.6 L308.2 2386.6 L308.6 2383.6 L308.9 2380.6 L309.3 2377.6 L309.6 2375.1 L309.9 2372.6 L310.3 2370.1 L310.6 2368.1 L310.9 2366.1 L311.2 2364.1 L311.5 2362.1 L311.9 2359.6 L312.2 2357.1 L312.6 2354.6 L312.9 2352.1 L313.2 2349.1 L313.5 2346.1 L313.9 2343.1 L314.2 2340.1 L314.5 2337.1 L314.9 2333.6 L315.2 2330.1 L315.5 2325.1 L315.5 2317.1 L315.2 2313.6 L314.9 2311.1 L314.5 2309.1 L314.1 2307.1 L313.8 2305.6 L313.5 2304.1 L313.2 2302.6 L312.8 2301.1 L312.5 2299.6 L312.1 2298.1 L311.8 2296.6 L311.4 2295.1 L311.1 2293.6 L310.8 2292.1 L310.5 2290.6 L310.2 2289.1 L309.8 2287.6 L309.5 2286.1 L309.2 2284.6 L308.8 2283.1 L308.4 2281.6 L308.1 2280.1 L307.7 2278.6 L307.3 2277.1 L306.9 2275.6 L306.5 2274.0 L306.1 2272.5 L305.8 2271.0 L305.4 2269.5 L305.0 2268.0 L304.7 2266.5 L304.4 2265.0 L304.0 2263.5 L303.7 2262.0 L303.4 2260.0 L303.0 2258.0 L302.6 2256.0 L302.3 2254.0 L301.9 2252.0 L301.5 2250.0 L301.2 2248.0 L300.8 2246.0 L300.5 2244.0 L300.2 2242.0 L299.9 2239.5 L299.5 2236.5 L299.2 2232.0 L299.0 2224.0 L298.8 2216.0 L298.7 2208.0 L298.7 2200.0 L298.6 2192.0 L298.5 2184.0 L298.5 2176.0 L298.4 2168.0 L298.4 2160.0 L298.3 2152.0 L298.3 2144.0 L298.2 2136.0 L298.2 2128.0 L298.1 2120.0 L298.1 2112.0 Z" fill="none" stroke="#BB9A35" stroke-width="1.35" stroke-linejoin="round"/>
<path d="M298.1 2105.0 L298.1 2113.0 L298.0 2121.0 L298.0 2129.0 L297.9 2137.0 L297.9 2145.0 L297.9 2153.0 L297.8 2161.0 L297.8 2169.0 L297.7 2177.0 L297.7 2185.0 L297.6 2193.0 L297.5 2201.0 L297.5 2209.0 L297.3 2217.0 L297.2 2225.0 L297.0 2233.0 L296.6 2237.0 L296.3 2240.0 L296.0 2242.5 L295.6 2245.0 L295.3 2247.0 L294.9 2249.0 L294.6 2251.0 L294.2 2253.0 L293.9 2255.0 L293.5 2257.0 L293.2 2259.0 L292.8 2261.0 L292.4 2263.0 L292.1 2264.5 L291.8 2266.0 L291.5 2267.5 L291.1 2269.0 L290.8 2270.5 L290.4 2272.1 L290.0 2273.6 L289.7 2275.1 L289.3 2276.6 L288.9 2278.1 L288.6 2279.6 L288.2 2281.1 L287.8 2282.6 L287.5 2284.1 L287.1 2285.6 L286.8 2287.1 L286.5 2288.6 L286.1 2290.6 L285.8 2292.1 L285.5 2293.6 L285.1 2295.1 L284.8 2296.6 L284.5 2298.1 L284.1 2299.6 L283.8 2301.1 L283.4 2302.6 L283.1 2304.1 L282.8 2305.6 L282.4 2307.6 L282.1 2309.6 L281.8 2311.6 L281.4 2314.1 L281.1 2318.6 L281.3 2326.6 L281.6 2331.6 L281.9 2335.1 L282.3 2338.6 L282.6 2341.6 L282.9 2344.6 L283.3 2347.6 L283.6 2350.6 L283.9 2353.6 L284.2 2356.1 L284.5 2358.6 L284.9 2361.1 L285.2 2363.6 L285.6 2366.1 L286.0 2368.6 L286.3 2371.1 L286.7 2373.6 L287.0 2376.1 L287.4 2379.1 L287.7 2382.1 L288.0 2385.1 L288.3 2388.1 L288.6 2391.6 L289.0 2395.1 L289.3 2398.6 L289.6 2402.6 L289.9 2407.1 L290.2 2412.1 L290.5 2417.1 L290.8 2422.6 L291.1 2430.6 L290.8 2435.1 L290.4 2437.1 L290.1 2438.6 L289.1 2441.5 L287.7 2444.0 L279.4 2448.0 L267.1 2451.3 L280.7 2457.0 L292.1 2461.0 L298.1 2462.0 L298.1 2462.0 L304.1 2461.0 L315.5 2457.0 L329.1 2451.3 L316.8 2448.0 L308.5 2444.0 L307.1 2441.5 L306.1 2438.6 L305.8 2437.1 L305.4 2435.1 L305.1 2430.6 L305.4 2422.6 L305.7 2417.1 L306.0 2412.1 L306.3 2407.1 L306.6 2402.6 L306.9 2398.6 L307.2 2395.1 L307.6 2391.6 L307.9 2388.1 L308.2 2385.1 L308.5 2382.1 L308.8 2379.1 L309.2 2376.1 L309.5 2373.6 L309.9 2371.1 L310.2 2368.6 L310.6 2366.1 L311.0 2363.6 L311.3 2361.1 L311.7 2358.6 L312.0 2356.1 L312.3 2353.6 L312.6 2350.6 L312.9 2347.6 L313.3 2344.6 L313.6 2341.6 L313.9 2338.6 L314.3 2335.1 L314.6 2331.6 L314.9 2326.6 L315.1 2318.6 L314.8 2314.1 L314.4 2311.6 L314.1 2309.6 L313.8 2307.6 L313.4 2305.6 L313.1 2304.1 L312.8 2302.6 L312.4 2301.1 L312.1 2299.6 L311.7 2298.1 L311.4 2296.6 L311.1 2295.1 L310.7 2293.6 L310.4 2292.1 L310.1 2290.6 L309.7 2288.6 L309.4 2287.1 L309.1 2285.6 L308.7 2284.1 L308.4 2282.6 L308.0 2281.1 L307.6 2279.6 L307.3 2278.1 L306.9 2276.6 L306.5 2275.1 L306.2 2273.6 L305.8 2272.1 L305.4 2270.5 L305.1 2269.0 L304.7 2267.5 L304.4 2266.0 L304.1 2264.5 L303.8 2263.0 L303.4 2261.0 L303.0 2259.0 L302.7 2257.0 L302.3 2255.0 L302.0 2253.0 L301.6 2251.0 L301.3 2249.0 L300.9 2247.0 L300.6 2245.0 L300.2 2242.5 L299.9 2240.0 L299.6 2237.0 L299.2 2233.0 L299.0 2225.0 L298.9 2217.0 L298.7 2209.0 L298.7 2201.0 L298.6 2193.0 L298.5 2185.0 L298.5 2177.0 L298.4 2169.0 L298.4 2161.0 L298.3 2153.0 L298.3 2145.0 L298.3 2137.0 L298.2 2129.0 L298.2 2121.0 L298.1 2113.0 L298.1 2105.0 Z" fill="none" stroke="#64C430" stroke-width="1.35" stroke-linejoin="round"/>
<path d="M298.1 2112.0 L298.1 2120.0 L298.0 2128.0 L298.0 2136.0 L297.9 2144.0 L297.9 2152.0 L297.8 2160.0 L297.8 2168.0 L297.7 2176.0 L297.7 2184.0 L297.6 2192.0 L297.5 2200.0 L297.5 2208.0 L297.4 2216.0 L297.2 2224.0 L297.0 2232.0 L296.7 2236.5 L296.4 2239.5 L296.1 2242.0 L295.8 2244.5 L295.4 2247.0 L295.1 2249.0 L294.8 2251.0 L294.4 2253.0 L294.1 2255.0 L293.8 2257.0 L293.5 2259.0 L293.1 2261.0 L292.8 2263.0 L292.4 2265.0 L292.1 2266.5 L291.7 2268.0 L291.4 2269.5 L291.1 2271.0 L290.7 2272.5 L290.4 2274.0 L290.0 2275.6 L289.6 2277.1 L289.3 2278.6 L288.9 2280.1 L288.6 2281.6 L288.3 2283.1 L287.9 2284.6 L287.6 2286.1 L287.2 2288.1 L286.9 2290.1 L286.6 2292.1 L286.2 2294.1 L285.8 2296.1 L285.5 2298.1 L285.1 2300.1 L284.8 2302.1 L284.4 2304.1 L284.1 2306.1 L283.7 2308.1 L283.4 2310.1 L283.1 2312.6 L282.8 2315.1 L282.5 2318.1 L282.2 2323.1 L282.2 2331.1 L282.5 2337.1 L282.8 2341.1 L283.1 2344.6 L283.5 2348.1 L283.8 2351.1 L284.1 2354.1 L284.4 2357.1 L284.7 2359.6 L285.1 2362.1 L285.4 2364.1 L285.8 2366.1 L286.1 2368.1 L286.5 2370.1 L286.8 2372.1 L287.1 2374.1 L287.5 2376.6 L287.8 2379.1 L288.2 2382.6 L288.5 2386.1 L288.8 2390.1 L289.1 2394.1 L289.4 2398.6 L289.7 2403.6 L290.0 2409.1 L290.4 2414.6 L290.7 2419.6 L291.0 2426.1 L290.9 2434.1 L290.6 2436.1 L290.2 2438.1 L290.1 2438.6 L289.1 2441.5 L288.3 2444.0 L280.6 2448.0 L269.1 2451.3 L281.8 2457.0 L292.1 2461.0 L298.1 2462.0 L298.1 2462.0 L304.1 2461.0 L314.4 2457.0 L327.1 2451.3 L315.6 2448.0 L307.9 2444.0 L307.1 2441.5 L306.1 2438.6 L306.0 2438.1 L305.6 2436.1 L305.3 2434.1 L305.2 2426.1 L305.5 2419.6 L305.8 2414.6 L306.2 2409.1 L306.5 2403.6 L306.8 2398.6 L307.1 2394.1 L307.4 2390.1 L307.7 2386.1 L308.0 2382.6 L308.4 2379.1 L308.7 2376.6 L309.1 2374.1 L309.4 2372.1 L309.7 2370.1 L310.1 2368.1 L310.4 2366.1 L310.8 2364.1 L311.1 2362.1 L311.5 2359.6 L311.8 2357.1 L312.1 2354.1 L312.4 2351.1 L312.7 2348.1 L313.1 2344.6 L313.4 2341.1 L313.7 2337.1 L314.0 2331.1 L314.0 2323.1 L313.7 2318.1 L313.4 2315.1 L313.1 2312.6 L312.8 2310.1 L312.5 2308.1 L312.1 2306.1 L311.8 2304.1 L311.4 2302.1 L311.1 2300.1 L310.7 2298.1 L310.4 2296.1 L310.0 2294.1 L309.6 2292.1 L309.3 2290.1 L309.0 2288.1 L308.6 2286.1 L308.3 2284.6 L307.9 2283.1 L307.6 2281.6 L307.3 2280.1 L306.9 2278.6 L306.6 2277.1 L306.2 2275.6 L305.8 2274.0 L305.5 2272.5 L305.1 2271.0 L304.8 2269.5 L304.5 2268.0 L304.1 2266.5 L303.8 2265.0 L303.4 2263.0 L303.1 2261.0 L302.7 2259.0 L302.4 2257.0 L302.1 2255.0 L301.8 2253.0 L301.4 2251.0 L301.1 2249.0 L300.8 2247.0 L300.4 2244.5 L300.1 2242.0 L299.8 2239.5 L299.5 2236.5 L299.2 2232.0 L299.0 2224.0 L298.8 2216.0 L298.7 2208.0 L298.7 2200.0 L298.6 2192.0 L298.5 2184.0 L298.5 2176.0 L298.4 2168.0 L298.4 2160.0 L298.3 2152.0 L298.3 2144.0 L298.2 2136.0 L298.2 2128.0 L298.1 2120.0 L298.1 2112.0 Z" fill="none" stroke="#6BA9D3" stroke-width="1.35" stroke-linejoin="round"/>
<path d="M298.1 2112.0 L298.1 2120.0 L298.0 2128.0 L298.0 2136.0 L297.9 2144.0 L297.9 2152.0 L297.8 2160.0 L297.8 2168.0 L297.7 2176.0 L297.7 2184.0 L297.6 2192.0 L297.5 2200.0 L297.5 2208.0 L297.4 2216.0 L297.2 2224.0 L297.0 2232.0 L296.7 2236.5 L296.4 2239.5 L296.0 2242.0 L295.7 2244.5 L295.4 2246.5 L295.0 2248.5 L294.7 2250.5 L294.3 2252.5 L294.0 2254.5 L293.6 2256.5 L293.3 2258.5 L292.9 2260.5 L292.5 2262.5 L292.1 2264.5 L291.8 2266.0 L291.5 2267.5 L291.1 2269.0 L290.8 2270.5 L290.4 2272.0 L290.0 2273.5 L289.7 2275.0 L289.3 2276.6 L288.9 2278.1 L288.6 2279.6 L288.2 2281.1 L287.8 2282.6 L287.5 2284.1 L287.1 2285.6 L286.8 2287.1 L286.5 2288.6 L286.1 2290.6 L285.8 2292.1 L285.5 2293.6 L285.1 2295.1 L284.8 2296.6 L284.5 2298.1 L284.1 2299.6 L283.8 2301.1 L283.4 2302.6 L283.1 2304.1 L282.8 2305.6 L282.4 2307.6 L282.1 2309.6 L281.8 2311.6 L281.4 2314.1 L281.1 2318.6 L281.3 2326.6 L281.6 2331.6 L281.9 2335.1 L282.3 2338.6 L282.6 2341.6 L282.9 2344.6 L283.3 2347.6 L283.6 2350.6 L283.9 2353.6 L284.2 2356.1 L284.5 2358.6 L284.9 2361.1 L285.2 2363.6 L285.6 2366.1 L286.0 2368.6 L286.3 2371.1 L286.7 2373.6 L287.0 2376.1 L287.4 2379.1 L287.7 2382.1 L288.0 2385.1 L288.3 2388.1 L288.6 2391.6 L289.0 2395.1 L289.3 2398.6 L289.6 2402.6 L289.9 2407.1 L290.2 2412.1 L290.5 2417.1 L290.8 2422.6 L291.1 2430.6 L290.8 2435.1 L290.4 2437.1 L290.1 2438.6 L289.1 2441.5 L288.7 2444.0 L281.2 2448.0 L270.1 2451.3 L282.4 2457.0 L292.1 2461.0 L298.1 2462.0 L298.1 2462.0 L304.1 2461.0 L313.8 2457.0 L326.1 2451.3 L315.0 2448.0 L307.5 2444.0 L307.1 2441.5 L306.1 2438.6 L305.8 2437.1 L305.4 2435.1 L305.1 2430.6 L305.4 2422.6 L305.7 2417.1 L306.0 2412.1 L306.3 2407.1 L306.6 2402.6 L306.9 2398.6 L307.2 2395.1 L307.6 2391.6 L307.9 2388.1 L308.2 2385.1 L308.5 2382.1 L308.8 2379.1 L309.2 2376.1 L309.5 2373.6 L309.9 2371.1 L310.2 2368.6 L310.6 2366.1 L311.0 2363.6 L311.3 2361.1 L311.7 2358.6 L312.0 2356.1 L312.3 2353.6 L312.6 2350.6 L312.9 2347.6 L313.3 2344.6 L313.6 2341.6 L313.9 2338.6 L314.3 2335.1 L314.6 2331.6 L314.9 2326.6 L315.1 2318.6 L314.8 2314.1 L314.4 2311.6 L314.1 2309.6 L313.8 2307.6 L313.4 2305.6 L313.1 2304.1 L312.8 2302.6 L312.4 2301.1 L312.1 2299.6 L311.7 2298.1 L311.4 2296.6 L311.1 2295.1 L310.7 2293.6 L310.4 2292.1 L310.1 2290.6 L309.7 2288.6 L309.4 2287.1 L309.1 2285.6 L308.7 2284.1 L308.4 2282.6 L308.0 2281.1 L307.6 2279.6 L307.3 2278.1 L306.9 2276.6 L306.5 2275.0 L306.2 2273.5 L305.8 2272.0 L305.4 2270.5 L305.1 2269.0 L304.7 2267.5 L304.4 2266.0 L304.1 2264.5 L303.7 2262.5 L303.3 2260.5 L302.9 2258.5 L302.6 2256.5 L302.2 2254.5 L301.9 2252.5 L301.5 2250.5 L301.2 2248.5 L300.8 2246.5 L300.5 2244.5 L300.2 2242.0 L299.8 2239.5 L299.5 2236.5 L299.2 2232.0 L299.0 2224.0 L298.8 2216.0 L298.7 2208.0 L298.7 2200.0 L298.6 2192.0 L298.5 2184.0 L298.5 2176.0 L298.4 2168.0 L298.4 2160.0 L298.3 2152.0 L298.3 2144.0 L298.2 2136.0 L298.2 2128.0 L298.1 2120.0 L298.1 2112.0 Z" fill="none" stroke="#C97ADB" stroke-width="1.35" stroke-linejoin="round"/>
<path d="M298.1 2081.0 L298.1 2089.0 L298.0 2097.0 L298.0 2105.0 L298.0 2113.0 L298.0 2121.0 L297.9 2129.0 L297.9 2137.0 L297.9 2145.0 L297.8 2153.0 L297.8 2161.0 L297.8 2169.0 L297.7 2177.0 L297.7 2185.0 L297.6 2193.0 L297.5 2201.0 L297.5 2209.0 L297.3 2217.0 L297.2 2225.0 L297.0 2233.0 L296.7 2239.0 L296.4 2243.5 L296.0 2247.5 L295.7 2251.0 L295.3 2254.5 L295.0 2257.5 L294.7 2260.6 L294.4 2263.6 L294.0 2266.1 L293.7 2268.6 L293.4 2270.6 L293.0 2272.6 L292.7 2274.6 L292.4 2276.6 L292.0 2278.6 L291.7 2280.6 L291.4 2282.6 L291.0 2285.1 L290.7 2287.6 L290.3 2290.6 L290.0 2293.6 L289.7 2296.6 L289.4 2299.6 L289.0 2302.6 L288.7 2305.6 L288.4 2308.6 L288.1 2312.1 L287.8 2316.1 L287.5 2320.6 L287.2 2327.6 L287.1 2335.6 L287.3 2343.6 L287.6 2350.6 L288.0 2356.1 L288.3 2361.6 L288.6 2365.6 L289.0 2368.1 L289.3 2370.6 L289.6 2373.1 L290.0 2376.1 L290.1 2384.1 L290.1 2392.1 L290.1 2400.1 L290.1 2408.1 L290.3 2416.1 L290.6 2421.1 L290.9 2426.1 L290.9 2434.1 L290.6 2436.1 L290.2 2438.1 L290.1 2438.6 L289.1 2441.5 L289.0 2444.0 L281.8 2448.0 L271.1 2451.3 L282.9 2457.0 L292.1 2461.0 L298.1 2462.0 L298.1 2462.0 L304.1 2461.0 L313.3 2457.0 L325.1 2451.3 L314.4 2448.0 L307.2 2444.0 L307.1 2441.5 L306.1 2438.6 L306.0 2438.1 L305.6 2436.1 L305.3 2434.1 L305.3 2426.1 L305.6 2421.1 L305.9 2416.1 L306.1 2408.1 L306.1 2400.1 L306.1 2392.1 L306.1 2384.1 L306.2 2376.1 L306.6 2373.1 L306.9 2370.6 L307.2 2368.1 L307.6 2365.6 L307.9 2361.6 L308.2 2356.1 L308.6 2350.6 L308.9 2343.6 L309.1 2335.6 L309.0 2327.6 L308.7 2320.6 L308.4 2316.1 L308.1 2312.1 L307.8 2308.6 L307.5 2305.6 L307.2 2302.6 L306.8 2299.6 L306.5 2296.6 L306.2 2293.6 L305.9 2290.6 L305.5 2287.6 L305.2 2285.1 L304.8 2282.6 L304.5 2280.6 L304.2 2278.6 L303.8 2276.6 L303.5 2274.6 L303.2 2272.6 L302.8 2270.6 L302.5 2268.6 L302.2 2266.1 L301.8 2263.6 L301.5 2260.6 L301.2 2257.5 L300.9 2254.5 L300.5 2251.0 L300.2 2247.5 L299.8 2243.5 L299.5 2239.0 L299.2 2233.0 L299.0 2225.0 L298.9 2217.0 L298.7 2209.0 L298.7 2201.0 L298.6 2193.0 L298.5 2185.0 L298.5 2177.0 L298.4 2169.0 L298.4 2161.0 L298.4 2153.0 L298.3 2145.0 L298.3 2137.0 L298.3 2129.0 L298.2 2121.0 L298.2 2113.0 L298.2 2105.0 L298.2 2097.0 L298.1 2089.0 L298.1 2081.0 Z" fill="none" stroke="#6FD0BC" stroke-width="1.35" stroke-linejoin="round"/>
<path d="M545.4 2100.0 L545.4 2108.0 L545.3 2116.0 L545.3 2124.0 L545.3 2132.0 L545.2 2140.0 L545.2 2148.0 L545.2 2156.0 L545.1 2164.1 L545.1 2172.1 L545.1 2180.1 L545.0 2188.1 L544.9 2196.1 L544.9 2204.1 L544.7 2212.1 L544.5 2220.1 L544.3 2228.1 L544.0 2236.1 L543.7 2243.1 L543.3 2249.6 L543.0 2255.6 L542.7 2261.1 L542.4 2265.1 L542.1 2268.6 L541.8 2271.6 L541.4 2274.7 L541.1 2277.7 L540.7 2280.7 L540.4 2283.7 L540.1 2287.2 L539.8 2290.2 L539.5 2293.2 L539.1 2296.2 L538.8 2299.2 L538.4 2302.2 L538.1 2305.2 L537.8 2308.7 L537.5 2313.7 L537.4 2321.7 L537.5 2329.7 L537.7 2337.7 L537.9 2345.7 L538.1 2353.7 L538.2 2361.7 L538.2 2369.7 L538.1 2377.7 L538.1 2385.7 L538.0 2393.8 L537.8 2401.8 L537.6 2409.8 L537.3 2415.8 L537.0 2419.8 L536.6 2423.3 L536.3 2426.3 L535.9 2428.8 L535.5 2430.8 L535.2 2431.8 L534.8 2432.8 L534.3 2433.8 L533.7 2434.8 L533.3 2435.3 L533.0 2435.8 L532.6 2436.3 L532.2 2436.8 L531.8 2437.3 L531.3 2437.8 L530.9 2438.3 L530.4 2438.8 L529.9 2439.3 L529.3 2439.8 L528.7 2440.3 L527.8 2440.8 L526.7 2441.3 L525.4 2441.8 L524.1 2442.3 L522.6 2442.8 L521.3 2443.3 L520.0 2443.8 L454.8 2449.0 L449.4 2453.0 L545.4 2458.8 L545.4 2458.8 L641.4 2453.0 L636.0 2449.0 L570.8 2443.8 L569.5 2443.3 L568.2 2442.8 L566.7 2442.3 L565.4 2441.8 L564.1 2441.3 L563.0 2440.8 L562.1 2440.3 L561.5 2439.8 L560.9 2439.3 L560.4 2438.8 L559.9 2438.3 L559.5 2437.8 L559.0 2437.3 L558.6 2436.8 L558.2 2436.3 L557.8 2435.8 L557.5 2435.3 L557.1 2434.8 L556.5 2433.8 L556.0 2432.8 L555.6 2431.8 L555.3 2430.8 L554.9 2428.8 L554.5 2426.3 L554.2 2423.3 L553.8 2419.8 L553.5 2415.8 L553.2 2409.8 L553.0 2401.8 L552.8 2393.8 L552.7 2385.7 L552.7 2377.7 L552.6 2369.7 L552.6 2361.7 L552.7 2353.7 L552.9 2345.7 L553.1 2337.7 L553.3 2329.7 L553.4 2321.7 L553.3 2313.7 L553.0 2308.7 L552.7 2305.2 L552.4 2302.2 L552.0 2299.2 L551.7 2296.2 L551.3 2293.2 L551.0 2290.2 L550.7 2287.2 L550.4 2283.7 L550.1 2280.7 L549.7 2277.7 L549.4 2274.7 L549.0 2271.6 L548.7 2268.6 L548.4 2265.1 L548.1 2261.1 L547.8 2255.6 L547.5 2249.6 L547.1 2243.1 L546.8 2236.1 L546.5 2228.1 L546.3 2220.1 L546.1 2212.1 L545.9 2204.1 L545.9 2196.1 L545.8 2188.1 L545.7 2180.1 L545.7 2172.1 L545.7 2164.1 L545.6 2156.0 L545.6 2148.0 L545.6 2140.0 L545.5 2132.0 L545.5 2124.0 L545.5 2116.0 L545.4 2108.0 L545.4 2100.0 Z" fill="none" stroke="#F07A95" stroke-width="1.35" stroke-linejoin="round"/>
<path d="M545.4 2170.0 L545.3 2178.0 L545.2 2186.0 L545.0 2194.0 L544.9 2202.0 L544.7 2210.0 L544.5 2218.1 L544.3 2226.1 L544.0 2234.1 L543.7 2242.1 L543.4 2249.1 L543.1 2255.1 L542.8 2260.6 L542.4 2264.6 L542.1 2267.6 L541.7 2270.1 L541.4 2272.6 L541.0 2275.1 L540.7 2277.6 L540.3 2280.1 L540.0 2282.6 L539.6 2285.1 L539.3 2288.1 L539.0 2290.6 L538.7 2293.1 L538.4 2295.6 L538.0 2298.1 L537.7 2300.6 L537.4 2303.6 L537.1 2306.6 L536.8 2310.2 L536.4 2315.7 L536.4 2323.7 L536.5 2331.7 L536.7 2339.7 L536.9 2347.7 L537.1 2355.7 L537.3 2363.7 L537.4 2371.7 L537.6 2379.7 L537.7 2387.7 L537.8 2395.7 L537.8 2403.8 L537.6 2411.8 L537.3 2416.8 L537.0 2420.3 L536.6 2423.3 L536.3 2425.8 L536.0 2428.3 L535.7 2430.3 L535.2 2431.8 L534.8 2432.8 L534.3 2433.8 L533.7 2434.8 L533.3 2435.3 L533.0 2435.8 L532.6 2436.3 L532.2 2436.8 L531.8 2437.3 L531.3 2437.8 L530.9 2438.3 L530.4 2438.8 L529.9 2439.3 L529.3 2439.8 L528.7 2440.3 L527.8 2440.8 L526.7 2441.3 L525.4 2441.8 L524.1 2442.3 L522.6 2442.8 L521.3 2443.3 L520.0 2443.8 L453.9 2449.0 L448.4 2453.0 L545.4 2458.8 L545.4 2458.8 L642.4 2453.0 L636.9 2449.0 L570.8 2443.8 L569.5 2443.3 L568.2 2442.8 L566.7 2442.3 L565.4 2441.8 L564.1 2441.3 L563.0 2440.8 L562.1 2440.3 L561.5 2439.8 L560.9 2439.3 L560.4 2438.8 L559.9 2438.3 L559.5 2437.8 L559.0 2437.3 L558.6 2436.8 L558.2 2436.3 L557.8 2435.8 L557.5 2435.3 L557.1 2434.8 L556.5 2433.8 L556.0 2432.8 L555.6 2431.8 L555.1 2430.3 L554.8 2428.3 L554.5 2425.8 L554.2 2423.3 L553.8 2420.3 L553.5 2416.8 L553.2 2411.8 L553.0 2403.8 L553.0 2395.7 L553.1 2387.7 L553.2 2379.7 L553.4 2371.7 L553.5 2363.7 L553.7 2355.7 L553.9 2347.7 L554.1 2339.7 L554.3 2331.7 L554.4 2323.7 L554.4 2315.7 L554.0 2310.2 L553.7 2306.6 L553.4 2303.6 L553.1 2300.6 L552.8 2298.1 L552.4 2295.6 L552.1 2293.1 L551.8 2290.6 L551.5 2288.1 L551.2 2285.1 L550.8 2282.6 L550.5 2280.1 L550.1 2277.6 L549.8 2275.1 L549.4 2272.6 L549.1 2270.1 L548.7 2267.6 L548.4 2264.6 L548.0 2260.6 L547.7 2255.1 L547.4 2249.1 L547.1 2242.1 L546.8 2234.1 L546.5 2226.1 L546.3 2218.1 L546.1 2210.0 L545.9 2202.0 L545.8 2194.0 L545.6 2186.0 L545.5 2178.0 L545.4 2170.0 Z" fill="none" stroke="#64C430" stroke-width="1.35" stroke-linejoin="round"/>
<path d="M545.4 2180.0 L545.2 2188.0 L545.0 2196.0 L544.8 2204.0 L544.6 2212.0 L544.3 2220.0 L544.1 2228.1 L543.8 2236.1 L543.5 2244.1 L543.2 2251.6 L542.9 2258.1 L542.6 2264.1 L542.3 2268.6 L541.9 2272.6 L541.6 2276.6 L541.3 2280.6 L541.0 2284.6 L540.6 2288.6 L540.3 2292.1 L540.0 2295.6 L539.6 2299.1 L539.3 2302.6 L539.0 2306.1 L538.7 2310.6 L538.4 2318.7 L538.5 2326.7 L538.6 2334.7 L538.8 2342.7 L539.0 2350.7 L539.1 2358.7 L539.1 2366.7 L539.0 2374.7 L538.7 2382.7 L538.4 2390.2 L538.1 2396.7 L537.8 2403.3 L537.5 2410.3 L537.1 2416.3 L536.8 2420.8 L536.5 2424.3 L536.1 2427.3 L535.8 2429.8 L535.4 2431.3 L535.0 2432.3 L534.5 2433.3 L534.0 2434.3 L533.7 2434.8 L533.3 2435.3 L533.0 2435.8 L532.6 2436.3 L532.2 2436.8 L531.8 2437.3 L531.3 2437.8 L530.9 2438.3 L530.4 2438.8 L529.9 2439.3 L529.3 2439.8 L528.7 2440.3 L527.8 2440.8 L526.7 2441.3 L525.4 2441.8 L524.1 2442.3 L522.6 2442.8 L521.3 2443.3 L520.0 2443.8 L453.9 2449.0 L448.4 2453.0 L545.4 2458.8 L545.4 2458.8 L642.4 2453.0 L636.9 2449.0 L570.8 2443.8 L569.5 2443.3 L568.2 2442.8 L566.7 2442.3 L565.4 2441.8 L564.1 2441.3 L563.0 2440.8 L562.1 2440.3 L561.5 2439.8 L560.9 2439.3 L560.4 2438.8 L559.9 2438.3 L559.5 2437.8 L559.0 2437.3 L558.6 2436.8 L558.2 2436.3 L557.8 2435.8 L557.5 2435.3 L557.1 2434.8 L556.8 2434.3 L556.3 2433.3 L555.8 2432.3 L555.4 2431.3 L555.0 2429.8 L554.7 2427.3 L554.3 2424.3 L554.0 2420.8 L553.7 2416.3 L553.3 2410.3 L553.0 2403.3 L552.7 2396.7 L552.4 2390.2 L552.1 2382.7 L551.8 2374.7 L551.7 2366.7 L551.7 2358.7 L551.8 2350.7 L552.0 2342.7 L552.2 2334.7 L552.3 2326.7 L552.4 2318.7 L552.1 2310.6 L551.8 2306.1 L551.5 2302.6 L551.2 2299.1 L550.8 2295.6 L550.5 2292.1 L550.2 2288.6 L549.8 2284.6 L549.5 2280.6 L549.2 2276.6 L548.9 2272.6 L548.5 2268.6 L548.2 2264.1 L547.9 2258.1 L547.6 2251.6 L547.3 2244.1 L547.0 2236.1 L546.7 2228.1 L546.5 2220.0 L546.2 2212.0 L546.0 2204.0 L545.8 2196.0 L545.6 2188.0 L545.4 2180.0 Z" fill="none" stroke="#6FD0BC" stroke-width="1.35" stroke-linejoin="round"/>
<path d="M545.4 2160.0 L545.3 2168.0 L545.2 2176.0 L545.1 2184.0 L545.0 2192.0 L544.9 2200.0 L544.7 2208.1 L544.5 2216.1 L544.3 2224.1 L544.1 2232.1 L543.8 2240.1 L543.5 2247.1 L543.1 2253.6 L542.8 2259.6 L542.5 2264.1 L542.2 2267.6 L541.9 2270.6 L541.6 2273.6 L541.2 2276.6 L540.9 2279.6 L540.5 2282.6 L540.2 2285.6 L539.9 2289.1 L539.6 2292.1 L539.2 2295.1 L538.9 2298.1 L538.6 2301.1 L538.2 2304.2 L537.9 2307.7 L537.6 2312.2 L537.4 2320.2 L537.5 2328.2 L537.7 2336.2 L537.9 2344.2 L538.1 2352.2 L538.2 2360.2 L538.2 2368.2 L538.2 2376.2 L538.1 2384.2 L538.0 2392.2 L537.9 2400.3 L537.7 2408.3 L537.3 2414.8 L537.0 2419.3 L536.7 2422.8 L536.3 2425.8 L536.0 2428.3 L535.7 2430.3 L535.2 2431.8 L534.8 2432.8 L534.3 2433.8 L533.7 2434.8 L533.3 2435.3 L533.0 2435.8 L532.6 2436.3 L532.2 2436.8 L531.8 2437.3 L531.3 2437.8 L530.9 2438.3 L530.4 2438.8 L529.9 2439.3 L529.3 2439.8 L528.7 2440.3 L527.8 2440.8 L526.7 2441.3 L525.4 2441.8 L524.1 2442.3 L522.6 2442.8 L521.3 2443.3 L520.0 2443.8 L453.9 2449.0 L448.4 2453.0 L545.4 2458.8 L545.4 2458.8 L642.4 2453.0 L636.9 2449.0 L570.8 2443.8 L569.5 2443.3 L568.2 2442.8 L566.7 2442.3 L565.4 2441.8 L564.1 2441.3 L563.0 2440.8 L562.1 2440.3 L561.5 2439.8 L560.9 2439.3 L560.4 2438.8 L559.9 2438.3 L559.5 2437.8 L559.0 2437.3 L558.6 2436.8 L558.2 2436.3 L557.8 2435.8 L557.5 2435.3 L557.1 2434.8 L556.5 2433.8 L556.0 2432.8 L555.6 2431.8 L555.1 2430.3 L554.8 2428.3 L554.5 2425.8 L554.1 2422.8 L553.8 2419.3 L553.5 2414.8 L553.1 2408.3 L552.9 2400.3 L552.8 2392.2 L552.7 2384.2 L552.6 2376.2 L552.6 2368.2 L552.6 2360.2 L552.7 2352.2 L552.9 2344.2 L553.1 2336.2 L553.3 2328.2 L553.4 2320.2 L553.2 2312.2 L552.9 2307.7 L552.6 2304.2 L552.2 2301.1 L551.9 2298.1 L551.6 2295.1 L551.2 2292.1 L550.9 2289.1 L550.6 2285.6 L550.3 2282.6 L549.9 2279.6 L549.6 2276.6 L549.2 2273.6 L548.9 2270.6 L548.6 2267.6 L548.3 2264.1 L548.0 2259.6 L547.7 2253.6 L547.3 2247.1 L547.0 2240.1 L546.7 2232.1 L546.5 2224.1 L546.3 2216.1 L546.1 2208.1 L545.9 2200.0 L545.8 2192.0 L545.7 2184.0 L545.6 2176.0 L545.5 2168.0 L545.4 2160.0 Z" fill="none" stroke="#C97ADB" stroke-width="1.35" stroke-linejoin="round"/>
<path d="M545.4 2195.0 L545.1 2198.0 L544.8 2202.5 L544.5 2209.0 L544.2 2217.0 L544.0 2225.0 L543.8 2233.0 L543.6 2241.0 L543.3 2249.0 L543.0 2256.0 L542.7 2261.5 L542.4 2264.5 L542.0 2267.0 L541.7 2269.0 L541.4 2271.0 L541.1 2273.0 L540.7 2275.0 L540.3 2277.0 L540.0 2279.0 L539.6 2281.0 L539.3 2283.0 L539.0 2285.5 L538.6 2288.0 L538.3 2290.5 L537.9 2293.0 L537.6 2295.5 L537.2 2298.0 L536.9 2300.5 L536.5 2303.0 L536.2 2305.5 L535.9 2308.5 L535.6 2312.5 L535.4 2320.6 L535.5 2328.6 L535.6 2336.6 L535.8 2344.6 L536.1 2352.6 L536.3 2360.6 L536.6 2368.6 L536.9 2375.6 L537.2 2382.1 L537.5 2389.1 L537.7 2397.1 L537.8 2405.1 L537.5 2413.1 L537.2 2417.6 L536.9 2421.1 L536.5 2424.1 L536.2 2426.6 L535.9 2429.1 L535.5 2431.1 L535.2 2432.1 L534.8 2433.1 L534.3 2434.1 L533.7 2435.1 L533.3 2435.6 L533.0 2436.1 L532.6 2436.6 L532.2 2437.1 L531.7 2437.6 L531.2 2438.1 L530.7 2438.6 L530.2 2439.1 L529.6 2439.6 L529.0 2440.1 L527.8 2440.6 L526.1 2441.1 L524.0 2441.6 L521.9 2442.1 L520.0 2442.6 L451.5 2447.8 L445.9 2451.8 L545.4 2458.8 L545.4 2458.8 L644.9 2451.8 L639.3 2447.8 L570.8 2442.6 L568.9 2442.1 L566.8 2441.6 L564.7 2441.1 L563.0 2440.6 L561.8 2440.1 L561.2 2439.6 L560.6 2439.1 L560.1 2438.6 L559.6 2438.1 L559.1 2437.6 L558.6 2437.1 L558.2 2436.6 L557.8 2436.1 L557.5 2435.6 L557.1 2435.1 L556.5 2434.1 L556.0 2433.1 L555.6 2432.1 L555.3 2431.1 L554.9 2429.1 L554.6 2426.6 L554.3 2424.1 L553.9 2421.1 L553.6 2417.6 L553.3 2413.1 L553.0 2405.1 L553.1 2397.1 L553.3 2389.1 L553.6 2382.1 L553.9 2375.6 L554.2 2368.6 L554.5 2360.6 L554.7 2352.6 L555.0 2344.6 L555.2 2336.6 L555.3 2328.6 L555.4 2320.6 L555.2 2312.5 L554.9 2308.5 L554.6 2305.5 L554.3 2303.0 L553.9 2300.5 L553.6 2298.0 L553.2 2295.5 L552.9 2293.0 L552.5 2290.5 L552.2 2288.0 L551.8 2285.5 L551.5 2283.0 L551.2 2281.0 L550.8 2279.0 L550.5 2277.0 L550.1 2275.0 L549.7 2273.0 L549.4 2271.0 L549.1 2269.0 L548.8 2267.0 L548.4 2264.5 L548.1 2261.5 L547.8 2256.0 L547.5 2249.0 L547.2 2241.0 L547.0 2233.0 L546.8 2225.0 L546.6 2217.0 L546.3 2209.0 L546.0 2202.5 L545.7 2198.0 L545.4 2195.0 Z" fill="none" stroke="#BB9A35" stroke-width="1.5" stroke-linejoin="round"/>
<path d="M545.4 1967.2 L545.4 1975.2 L545.4 1983.2 L545.4 1991.2 L545.3 1999.2 L545.3 2007.2 L545.3 2015.2 L545.3 2023.2 L545.3 2031.2 L545.3 2039.2 L545.3 2047.2 L545.3 2055.2 L545.3 2063.2 L545.2 2071.2 L545.2 2079.2 L545.2 2087.2 L545.2 2095.2 L545.2 2103.2 L545.2 2111.2 L545.2 2119.2 L545.2 2127.2 L545.1 2135.2 L545.1 2143.2 L545.1 2151.2 L545.1 2159.2 L545.0 2167.2 L545.0 2175.2 L545.0 2183.2 L544.9 2191.2 L544.9 2199.2 L544.8 2207.3 L544.7 2215.3 L544.4 2223.3 L544.1 2231.3 L543.8 2238.8 L543.5 2245.8 L543.2 2252.3 L542.9 2258.8 L542.6 2264.8 L542.2 2270.3 L541.9 2275.3 L541.6 2279.8 L541.3 2284.3 L541.0 2288.8 L540.6 2292.8 L540.3 2296.3 L540.0 2299.8 L539.7 2303.3 L539.4 2307.3 L539.1 2312.3 L538.9 2320.3 L539.0 2328.3 L539.1 2336.3 L539.3 2344.3 L539.4 2352.3 L539.5 2360.3 L539.5 2368.3 L539.3 2376.3 L539.0 2383.3 L538.7 2388.8 L538.4 2393.8 L538.0 2398.8 L537.7 2404.3 L537.4 2410.8 L537.1 2416.8 L536.8 2421.3 L536.4 2424.8 L536.1 2427.3 L535.8 2429.8 L535.4 2431.3 L535.0 2432.3 L534.5 2433.3 L534.0 2434.3 L533.7 2434.8 L533.3 2435.3 L533.0 2435.8 L532.6 2436.3 L532.2 2436.8 L531.8 2437.3 L531.3 2437.8 L530.9 2438.3 L530.4 2438.8 L529.9 2439.3 L529.3 2439.8 L528.7 2440.3 L527.8 2440.8 L526.7 2441.3 L525.4 2441.8 L524.1 2442.3 L522.6 2442.8 L521.3 2443.3 L520.0 2443.8 L451.5 2449.0 L445.9 2453.0 L545.4 2458.8 L545.4 2458.8 L644.9 2453.0 L639.3 2449.0 L570.8 2443.8 L569.5 2443.3 L568.2 2442.8 L566.7 2442.3 L565.4 2441.8 L564.1 2441.3 L563.0 2440.8 L562.1 2440.3 L561.5 2439.8 L560.9 2439.3 L560.4 2438.8 L559.9 2438.3 L559.5 2437.8 L559.0 2437.3 L558.6 2436.8 L558.2 2436.3 L557.8 2435.8 L557.5 2435.3 L557.1 2434.8 L556.8 2434.3 L556.3 2433.3 L555.8 2432.3 L555.4 2431.3 L555.0 2429.8 L554.7 2427.3 L554.4 2424.8 L554.0 2421.3 L553.7 2416.8 L553.4 2410.8 L553.1 2404.3 L552.8 2398.8 L552.4 2393.8 L552.1 2388.8 L551.8 2383.3 L551.5 2376.3 L551.3 2368.3 L551.3 2360.3 L551.4 2352.3 L551.5 2344.3 L551.7 2336.3 L551.8 2328.3 L551.9 2320.3 L551.7 2312.3 L551.4 2307.3 L551.1 2303.3 L550.8 2299.8 L550.5 2296.3 L550.2 2292.8 L549.8 2288.8 L549.5 2284.3 L549.2 2279.8 L548.9 2275.3 L548.6 2270.3 L548.2 2264.8 L547.9 2258.8 L547.6 2252.3 L547.3 2245.8 L547.0 2238.8 L546.7 2231.3 L546.4 2223.3 L546.1 2215.3 L546.0 2207.3 L545.9 2199.2 L545.9 2191.2 L545.8 2183.2 L545.8 2175.2 L545.8 2167.2 L545.7 2159.2 L545.7 2151.2 L545.7 2143.2 L545.7 2135.2 L545.6 2127.2 L545.6 2119.2 L545.6 2111.2 L545.6 2103.2 L545.6 2095.2 L545.6 2087.2 L545.6 2079.2 L545.6 2071.2 L545.5 2063.2 L545.5 2055.2 L545.5 2047.2 L545.5 2039.2 L545.5 2031.2 L545.5 2023.2 L545.5 2015.2 L545.5 2007.2 L545.5 1999.2 L545.4 1991.2 L545.4 1983.2 L545.4 1975.2 L545.4 1967.2 Z" fill="none" stroke="#6BA9D3" stroke-width="1.6" stroke-linejoin="round"/>
<path d="M792.5 2150.0 L792.2 2153.5 L791.9 2157.0 L791.6 2163.0 L791.3 2171.0 L791.1 2179.0 L790.9 2187.1 L790.8 2195.1 L790.6 2203.1 L790.4 2211.1 L790.3 2219.1 L790.0 2227.1 L789.8 2235.1 L789.5 2243.1 L789.3 2251.1 L789.0 2259.2 L788.7 2267.2 L788.4 2275.2 L788.1 2283.2 L787.8 2290.7 L787.5 2297.2 L787.2 2303.7 L786.9 2310.7 L786.6 2318.7 L786.5 2326.7 L786.5 2334.8 L786.5 2342.8 L786.6 2350.8 L786.7 2358.8 L786.7 2366.8 L786.8 2374.8 L786.8 2382.8 L786.8 2390.8 L786.6 2398.9 L786.3 2405.9 L786.0 2410.9 L785.7 2414.9 L785.4 2418.4 L785.0 2420.9 L784.7 2422.4 L784.2 2423.9 L783.9 2424.9 L783.5 2425.9 L783.1 2426.9 L782.5 2427.9 L782.2 2428.4 L781.9 2428.9 L781.5 2429.4 L781.2 2429.9 L780.8 2430.4 L780.4 2430.9 L780.1 2431.4 L779.7 2431.9 L779.3 2432.4 L779.0 2432.9 L764.8 2438.5 L746.3 2444.2 L734.4 2448.5 L730.5 2451.0 L741.3 2455.6 L762.2 2461.2 L779.7 2466.9 L784.0 2468.6 L792.5 2469.0 L792.5 2469.0 L801.0 2468.6 L805.3 2466.9 L822.8 2461.2 L843.7 2455.6 L854.5 2451.0 L850.6 2448.5 L838.7 2444.2 L820.2 2438.5 L806.0 2432.9 L805.7 2432.4 L805.3 2431.9 L804.9 2431.4 L804.6 2430.9 L804.2 2430.4 L803.8 2429.9 L803.5 2429.4 L803.1 2428.9 L802.8 2428.4 L802.5 2427.9 L801.9 2426.9 L801.5 2425.9 L801.1 2424.9 L800.8 2423.9 L800.3 2422.4 L800.0 2420.9 L799.6 2418.4 L799.3 2414.9 L799.0 2410.9 L798.7 2405.9 L798.4 2398.9 L798.2 2390.8 L798.2 2382.8 L798.2 2374.8 L798.3 2366.8 L798.3 2358.8 L798.4 2350.8 L798.5 2342.8 L798.5 2334.8 L798.5 2326.7 L798.4 2318.7 L798.1 2310.7 L797.8 2303.7 L797.5 2297.2 L797.2 2290.7 L796.9 2283.2 L796.6 2275.2 L796.3 2267.2 L796.0 2259.2 L795.7 2251.1 L795.5 2243.1 L795.2 2235.1 L795.0 2227.1 L794.7 2219.1 L794.6 2211.1 L794.4 2203.1 L794.2 2195.1 L794.1 2187.1 L793.9 2179.0 L793.7 2171.0 L793.4 2163.0 L793.1 2157.0 L792.8 2153.5 L792.5 2150.0 Z" fill="none" stroke="#F07A95" stroke-width="1.35" stroke-linejoin="round"/>
<path d="M792.5 2150.0 L792.2 2153.5 L791.9 2157.0 L791.6 2163.0 L791.3 2171.0 L791.1 2179.0 L790.9 2187.1 L790.8 2195.1 L790.6 2203.1 L790.4 2211.1 L790.3 2219.1 L790.0 2227.1 L789.8 2235.1 L789.5 2243.1 L789.3 2251.1 L789.0 2259.2 L788.7 2267.2 L788.4 2275.2 L788.1 2283.2 L787.8 2290.7 L787.5 2297.2 L787.2 2303.7 L786.9 2310.7 L786.6 2318.7 L786.5 2326.7 L786.5 2334.8 L786.5 2342.8 L786.6 2350.8 L786.7 2358.8 L786.7 2366.8 L786.8 2374.8 L786.8 2382.8 L786.8 2390.8 L786.6 2398.9 L786.3 2405.9 L786.0 2410.9 L785.7 2414.9 L785.4 2418.4 L785.0 2420.9 L784.7 2422.4 L784.2 2423.9 L783.9 2424.9 L783.5 2425.9 L783.1 2426.9 L782.5 2427.9 L782.2 2428.4 L781.9 2428.9 L781.5 2429.4 L781.2 2429.9 L780.8 2430.4 L780.4 2430.9 L780.1 2431.4 L779.7 2431.9 L779.3 2432.4 L779.0 2432.9 L765.7 2438.5 L747.8 2444.2 L736.3 2448.5 L732.5 2451.0 L743.0 2455.6 L763.1 2461.2 L779.7 2466.9 L784.0 2468.6 L792.5 2469.0 L792.5 2469.0 L801.0 2468.6 L805.3 2466.9 L821.9 2461.2 L842.0 2455.6 L852.5 2451.0 L848.7 2448.5 L837.2 2444.2 L819.3 2438.5 L806.0 2432.9 L805.7 2432.4 L805.3 2431.9 L804.9 2431.4 L804.6 2430.9 L804.2 2430.4 L803.8 2429.9 L803.5 2429.4 L803.1 2428.9 L802.8 2428.4 L802.5 2427.9 L801.9 2426.9 L801.5 2425.9 L801.1 2424.9 L800.8 2423.9 L800.3 2422.4 L800.0 2420.9 L799.6 2418.4 L799.3 2414.9 L799.0 2410.9 L798.7 2405.9 L798.4 2398.9 L798.2 2390.8 L798.2 2382.8 L798.2 2374.8 L798.3 2366.8 L798.3 2358.8 L798.4 2350.8 L798.5 2342.8 L798.5 2334.8 L798.5 2326.7 L798.4 2318.7 L798.1 2310.7 L797.8 2303.7 L797.5 2297.2 L797.2 2290.7 L796.9 2283.2 L796.6 2275.2 L796.3 2267.2 L796.0 2259.2 L795.7 2251.1 L795.5 2243.1 L795.2 2235.1 L795.0 2227.1 L794.7 2219.1 L794.6 2211.1 L794.4 2203.1 L794.2 2195.1 L794.1 2187.1 L793.9 2179.0 L793.7 2171.0 L793.4 2163.0 L793.1 2157.0 L792.8 2153.5 L792.5 2150.0 Z" fill="none" stroke="#BB9A35" stroke-width="1.35" stroke-linejoin="round"/>
<path d="M792.5 2150.0 L792.2 2153.5 L791.9 2157.0 L791.6 2163.0 L791.3 2171.0 L791.1 2179.0 L790.9 2187.1 L790.8 2195.1 L790.6 2203.1 L790.4 2211.1 L790.3 2219.1 L790.0 2227.1 L789.8 2235.1 L789.5 2243.1 L789.3 2251.1 L789.0 2259.2 L788.7 2267.2 L788.4 2275.2 L788.1 2283.2 L787.8 2290.7 L787.5 2297.2 L787.2 2303.7 L786.9 2310.7 L786.6 2318.7 L786.5 2326.7 L786.5 2334.8 L786.5 2342.8 L786.6 2350.8 L786.7 2358.8 L786.7 2366.8 L786.8 2374.8 L786.8 2382.8 L786.8 2390.8 L786.6 2398.9 L786.3 2405.9 L786.0 2410.9 L785.7 2414.9 L785.4 2418.4 L785.0 2420.9 L784.7 2422.4 L784.2 2423.9 L783.9 2424.9 L783.5 2425.9 L783.1 2426.9 L782.5 2427.9 L782.2 2428.4 L781.9 2428.9 L781.5 2429.4 L781.2 2429.9 L780.8 2430.4 L780.4 2430.9 L780.1 2431.4 L779.7 2431.9 L779.3 2432.4 L779.0 2432.9 L765.2 2438.5 L747.1 2444.2 L735.3 2448.5 L731.5 2451.0 L742.1 2455.6 L762.6 2461.2 L779.7 2466.9 L784.0 2468.6 L792.5 2469.0 L792.5 2469.0 L801.0 2468.6 L805.3 2466.9 L822.4 2461.2 L842.9 2455.6 L853.5 2451.0 L849.7 2448.5 L837.9 2444.2 L819.8 2438.5 L806.0 2432.9 L805.7 2432.4 L805.3 2431.9 L804.9 2431.4 L804.6 2430.9 L804.2 2430.4 L803.8 2429.9 L803.5 2429.4 L803.1 2428.9 L802.8 2428.4 L802.5 2427.9 L801.9 2426.9 L801.5 2425.9 L801.1 2424.9 L800.8 2423.9 L800.3 2422.4 L800.0 2420.9 L799.6 2418.4 L799.3 2414.9 L799.0 2410.9 L798.7 2405.9 L798.4 2398.9 L798.2 2390.8 L798.2 2382.8 L798.2 2374.8 L798.3 2366.8 L798.3 2358.8 L798.4 2350.8 L798.5 2342.8 L798.5 2334.8 L798.5 2326.7 L798.4 2318.7 L798.1 2310.7 L797.8 2303.7 L797.5 2297.2 L797.2 2290.7 L796.9 2283.2 L796.6 2275.2 L796.3 2267.2 L796.0 2259.2 L795.7 2251.1 L795.5 2243.1 L795.2 2235.1 L795.0 2227.1 L794.7 2219.1 L794.6 2211.1 L794.4 2203.1 L794.2 2195.1 L794.1 2187.1 L793.9 2179.0 L793.7 2171.0 L793.4 2163.0 L793.1 2157.0 L792.8 2153.5 L792.5 2150.0 Z" fill="none" stroke="#6FD0BC" stroke-width="1.35" stroke-linejoin="round"/>
<path d="M792.5 2150.0 L792.2 2153.5 L791.9 2157.0 L791.6 2163.0 L791.3 2171.0 L791.1 2179.0 L790.9 2187.1 L790.8 2195.1 L790.6 2203.1 L790.4 2211.1 L790.3 2219.1 L790.0 2227.1 L789.8 2235.1 L789.5 2243.1 L789.3 2251.1 L789.0 2259.2 L788.7 2267.2 L788.4 2275.2 L788.1 2283.2 L787.8 2290.7 L787.5 2297.2 L787.2 2303.7 L786.9 2310.7 L786.6 2318.7 L786.5 2326.7 L786.5 2334.8 L786.5 2342.8 L786.6 2350.8 L786.7 2358.8 L786.7 2366.8 L786.8 2374.8 L786.8 2382.8 L786.8 2390.8 L786.6 2398.9 L786.3 2405.9 L786.0 2410.9 L785.7 2414.9 L785.4 2418.4 L785.0 2420.9 L784.7 2422.4 L784.2 2423.9 L783.9 2424.9 L783.5 2425.9 L783.1 2426.9 L782.5 2427.9 L782.2 2428.4 L781.9 2428.9 L781.5 2429.4 L781.2 2429.9 L780.8 2430.4 L780.4 2430.9 L780.1 2431.4 L779.7 2431.9 L779.3 2432.4 L779.0 2432.9 L764.8 2438.5 L746.3 2444.2 L734.4 2448.5 L730.5 2451.0 L741.3 2455.6 L762.2 2461.2 L779.7 2466.9 L784.0 2468.6 L792.5 2469.0 L792.5 2469.0 L801.0 2468.6 L805.3 2466.9 L822.8 2461.2 L843.7 2455.6 L854.5 2451.0 L850.6 2448.5 L838.7 2444.2 L820.2 2438.5 L806.0 2432.9 L805.7 2432.4 L805.3 2431.9 L804.9 2431.4 L804.6 2430.9 L804.2 2430.4 L803.8 2429.9 L803.5 2429.4 L803.1 2428.9 L802.8 2428.4 L802.5 2427.9 L801.9 2426.9 L801.5 2425.9 L801.1 2424.9 L800.8 2423.9 L800.3 2422.4 L800.0 2420.9 L799.6 2418.4 L799.3 2414.9 L799.0 2410.9 L798.7 2405.9 L798.4 2398.9 L798.2 2390.8 L798.2 2382.8 L798.2 2374.8 L798.3 2366.8 L798.3 2358.8 L798.4 2350.8 L798.5 2342.8 L798.5 2334.8 L798.5 2326.7 L798.4 2318.7 L798.1 2310.7 L797.8 2303.7 L797.5 2297.2 L797.2 2290.7 L796.9 2283.2 L796.6 2275.2 L796.3 2267.2 L796.0 2259.2 L795.7 2251.1 L795.5 2243.1 L795.2 2235.1 L795.0 2227.1 L794.7 2219.1 L794.6 2211.1 L794.4 2203.1 L794.2 2195.1 L794.1 2187.1 L793.9 2179.0 L793.7 2171.0 L793.4 2163.0 L793.1 2157.0 L792.8 2153.5 L792.5 2150.0 Z" fill="none" stroke="#6BA9D3" stroke-width="1.35" stroke-linejoin="round"/>
<path d="M792.5 1989.6 L792.5 1997.6 L792.4 2005.6 L792.4 2013.6 L792.4 2021.6 L792.3 2029.6 L792.3 2037.6 L792.3 2045.6 L792.3 2053.6 L792.2 2061.6 L792.2 2069.7 L792.2 2077.7 L792.1 2085.7 L792.1 2093.7 L792.1 2101.7 L792.0 2109.7 L792.0 2117.7 L792.0 2125.7 L791.9 2133.7 L791.8 2141.7 L791.8 2149.7 L791.7 2157.7 L791.6 2165.7 L791.5 2173.7 L791.3 2181.7 L791.1 2189.7 L790.9 2197.7 L790.7 2205.7 L790.4 2213.8 L790.2 2221.8 L789.9 2229.8 L789.6 2236.8 L789.3 2243.3 L788.9 2249.8 L788.6 2255.8 L788.3 2261.8 L788.0 2267.8 L787.7 2273.8 L787.4 2280.3 L787.1 2286.8 L786.8 2292.3 L786.4 2297.8 L786.1 2303.3 L785.8 2309.3 L785.5 2316.8 L785.3 2324.8 L785.3 2332.8 L785.3 2340.8 L785.4 2348.8 L785.5 2356.8 L785.5 2364.9 L785.6 2372.9 L785.6 2380.9 L785.7 2388.9 L785.6 2396.9 L785.6 2404.9 L785.4 2412.9 L785.1 2420.9 L784.7 2422.4 L784.4 2423.4 L784.1 2424.4 L783.7 2425.4 L783.3 2426.4 L782.8 2427.4 L782.2 2428.4 L781.9 2428.9 L781.5 2429.4 L781.2 2429.9 L780.8 2430.4 L780.4 2430.9 L780.1 2431.4 L779.7 2431.9 L779.3 2432.4 L779.0 2432.9 L762.9 2438.5 L743.2 2444.2 L730.5 2448.5 L726.3 2451.0 L737.8 2455.6 L760.1 2461.2 L779.7 2466.9 L784.0 2468.6 L792.5 2469.0 L792.5 2469.0 L801.0 2468.6 L805.3 2466.9 L824.9 2461.2 L847.2 2455.6 L858.7 2451.0 L854.5 2448.5 L841.8 2444.2 L822.1 2438.5 L806.0 2432.9 L805.7 2432.4 L805.3 2431.9 L804.9 2431.4 L804.6 2430.9 L804.2 2430.4 L803.8 2429.9 L803.5 2429.4 L803.1 2428.9 L802.8 2428.4 L802.2 2427.4 L801.7 2426.4 L801.3 2425.4 L800.9 2424.4 L800.6 2423.4 L800.3 2422.4 L799.9 2420.9 L799.6 2412.9 L799.4 2404.9 L799.4 2396.9 L799.3 2388.9 L799.4 2380.9 L799.4 2372.9 L799.5 2364.9 L799.5 2356.8 L799.6 2348.8 L799.7 2340.8 L799.7 2332.8 L799.7 2324.8 L799.5 2316.8 L799.2 2309.3 L798.9 2303.3 L798.6 2297.8 L798.2 2292.3 L797.9 2286.8 L797.6 2280.3 L797.3 2273.8 L797.0 2267.8 L796.7 2261.8 L796.4 2255.8 L796.1 2249.8 L795.7 2243.3 L795.4 2236.8 L795.1 2229.8 L794.8 2221.8 L794.6 2213.8 L794.3 2205.7 L794.1 2197.7 L793.9 2189.7 L793.7 2181.7 L793.5 2173.7 L793.4 2165.7 L793.3 2157.7 L793.2 2149.7 L793.2 2141.7 L793.1 2133.7 L793.0 2125.7 L793.0 2117.7 L793.0 2109.7 L792.9 2101.7 L792.9 2093.7 L792.9 2085.7 L792.8 2077.7 L792.8 2069.7 L792.8 2061.6 L792.7 2053.6 L792.7 2045.6 L792.7 2037.6 L792.7 2029.6 L792.6 2021.6 L792.6 2013.6 L792.6 2005.6 L792.5 1997.6 L792.5 1989.6 Z" fill="none" stroke="#64C430" stroke-width="1.9" stroke-linejoin="round"/>
<path d="M792.5 2016.0 L792.5 2024.0 L792.4 2032.0 L792.4 2040.0 L792.3 2048.0 L792.3 2056.0 L792.3 2064.0 L792.2 2072.1 L792.2 2080.1 L792.2 2088.1 L792.1 2096.1 L792.1 2104.1 L792.1 2112.1 L792.0 2120.1 L792.0 2128.1 L791.9 2136.1 L791.8 2144.1 L791.8 2152.1 L791.7 2160.1 L791.6 2168.1 L791.4 2176.2 L791.3 2184.2 L791.0 2192.2 L790.8 2200.2 L790.6 2208.2 L790.3 2216.2 L790.1 2224.2 L789.9 2232.2 L789.6 2240.2 L789.4 2248.2 L789.2 2256.2 L788.9 2264.2 L788.6 2272.2 L788.4 2280.3 L788.1 2288.3 L787.8 2295.3 L787.5 2301.8 L787.2 2308.8 L786.9 2316.8 L786.7 2324.8 L786.7 2332.8 L786.7 2340.8 L786.8 2348.8 L786.8 2356.8 L786.9 2364.8 L786.9 2372.8 L787.0 2380.9 L787.0 2388.9 L786.9 2396.9 L786.5 2403.9 L786.2 2408.9 L785.9 2412.9 L785.6 2416.4 L785.3 2419.4 L784.9 2421.4 L784.5 2422.9 L784.1 2424.4 L783.7 2425.4 L783.3 2426.4 L782.8 2427.4 L782.2 2428.4 L781.9 2428.9 L781.5 2429.4 L781.2 2429.9 L780.8 2430.4 L780.4 2430.9 L780.1 2431.4 L779.7 2431.9 L779.3 2432.4 L779.0 2432.9 L764.8 2438.5 L746.3 2444.2 L734.4 2448.5 L730.5 2451.0 L741.3 2455.6 L762.2 2461.2 L779.7 2466.9 L784.0 2468.6 L792.5 2469.0 L792.5 2469.0 L801.0 2468.6 L805.3 2466.9 L822.8 2461.2 L843.7 2455.6 L854.5 2451.0 L850.6 2448.5 L838.7 2444.2 L820.2 2438.5 L806.0 2432.9 L805.7 2432.4 L805.3 2431.9 L804.9 2431.4 L804.6 2430.9 L804.2 2430.4 L803.8 2429.9 L803.5 2429.4 L803.1 2428.9 L802.8 2428.4 L802.2 2427.4 L801.7 2426.4 L801.3 2425.4 L800.9 2424.4 L800.5 2422.9 L800.1 2421.4 L799.7 2419.4 L799.4 2416.4 L799.1 2412.9 L798.8 2408.9 L798.5 2403.9 L798.1 2396.9 L798.0 2388.9 L798.0 2380.9 L798.1 2372.8 L798.1 2364.8 L798.2 2356.8 L798.2 2348.8 L798.3 2340.8 L798.3 2332.8 L798.3 2324.8 L798.1 2316.8 L797.8 2308.8 L797.5 2301.8 L797.2 2295.3 L796.9 2288.3 L796.6 2280.3 L796.4 2272.2 L796.1 2264.2 L795.8 2256.2 L795.6 2248.2 L795.4 2240.2 L795.1 2232.2 L794.9 2224.2 L794.7 2216.2 L794.4 2208.2 L794.2 2200.2 L794.0 2192.2 L793.7 2184.2 L793.6 2176.2 L793.4 2168.1 L793.3 2160.1 L793.2 2152.1 L793.2 2144.1 L793.1 2136.1 L793.0 2128.1 L793.0 2120.1 L792.9 2112.1 L792.9 2104.1 L792.9 2096.1 L792.8 2088.1 L792.8 2080.1 L792.8 2072.1 L792.7 2064.0 L792.7 2056.0 L792.7 2048.0 L792.6 2040.0 L792.6 2032.0 L792.5 2024.0 L792.5 2016.0 Z" fill="none" stroke="#C97ADB" stroke-width="1.6" stroke-linejoin="round"/>
<path d="M792.5 2150.0 L792.2 2153.5 L791.9 2157.0 L791.6 2163.0 L791.3 2171.0 L791.1 2179.0 L790.9 2187.1 L790.7 2195.1 L790.6 2203.1 L790.4 2211.1 L790.2 2219.1 L790.0 2227.1 L789.8 2235.1 L789.6 2243.1 L789.4 2251.1 L789.2 2259.2 L789.0 2267.2 L788.8 2275.2 L788.6 2283.2 L788.3 2291.2 L788.0 2298.2 L787.7 2305.2 L787.4 2313.2 L787.2 2321.2 L787.1 2329.3 L787.1 2337.3 L787.2 2345.3 L787.2 2353.3 L787.3 2361.3 L787.3 2369.3 L787.3 2377.3 L787.4 2385.3 L787.3 2393.3 L787.0 2400.9 L786.7 2405.4 L786.3 2409.4 L786.0 2412.9 L785.7 2415.9 L785.3 2418.9 L785.0 2420.9 L784.6 2422.4 L784.2 2423.9 L783.9 2424.9 L783.5 2425.9 L783.1 2426.9 L782.5 2427.9 L782.2 2428.4 L781.9 2428.9 L781.5 2429.4 L781.2 2429.9 L780.8 2430.4 L780.4 2430.9 L780.1 2431.4 L779.7 2431.9 L779.3 2432.4 L779.0 2432.9 L767.4 2438.5 L750.8 2444.2 L740.0 2448.5 L736.5 2451.0 L746.3 2455.6 L765.1 2461.2 L779.7 2466.9 L784.0 2468.6 L792.5 2469.0 L792.5 2469.0 L801.0 2468.6 L805.3 2466.9 L819.9 2461.2 L838.7 2455.6 L848.5 2451.0 L845.0 2448.5 L834.2 2444.2 L817.6 2438.5 L806.0 2432.9 L805.7 2432.4 L805.3 2431.9 L804.9 2431.4 L804.6 2430.9 L804.2 2430.4 L803.8 2429.9 L803.5 2429.4 L803.1 2428.9 L802.8 2428.4 L802.5 2427.9 L801.9 2426.9 L801.5 2425.9 L801.1 2424.9 L800.8 2423.9 L800.4 2422.4 L800.0 2420.9 L799.7 2418.9 L799.3 2415.9 L799.0 2412.9 L798.7 2409.4 L798.3 2405.4 L798.0 2400.9 L797.7 2393.3 L797.6 2385.3 L797.7 2377.3 L797.7 2369.3 L797.7 2361.3 L797.8 2353.3 L797.8 2345.3 L797.9 2337.3 L797.9 2329.3 L797.8 2321.2 L797.6 2313.2 L797.3 2305.2 L797.0 2298.2 L796.7 2291.2 L796.4 2283.2 L796.2 2275.2 L796.0 2267.2 L795.8 2259.2 L795.6 2251.1 L795.4 2243.1 L795.2 2235.1 L795.0 2227.1 L794.8 2219.1 L794.6 2211.1 L794.4 2203.1 L794.3 2195.1 L794.1 2187.1 L793.9 2179.0 L793.7 2171.0 L793.4 2163.0 L793.1 2157.0 L792.8 2153.5 L792.5 2150.0 Z" fill="none" stroke="#C97ADB" stroke-width="1.3" stroke-linejoin="round"/>
<text class="d" x="308.00" y="1967.40" font-size="31.7" fill="#1c1c1c" text-anchor="middle" stroke="#1c1c1c">Core</text>
<text class="d" x="545.30" y="1967.40" font-size="31.7" fill="#1c1c1c" text-anchor="middle" stroke="#1c1c1c">Shell</text>
<text class="d" x="782.40" y="1967.40" font-size="31.7" fill="#1c1c1c" text-anchor="middle" stroke="#1c1c1c">Cloud</text>
<text class="d" x="147.20" y="2464.22" font-size="29.1" fill="#1c1c1c" text-anchor="end" stroke="#1c1c1c">0.0</text>
<text class="d" x="147.20" y="2390.92" font-size="29.1" fill="#1c1c1c" text-anchor="end" stroke="#1c1c1c">2.5</text>
<text class="d" x="147.20" y="2317.62" font-size="29.1" fill="#1c1c1c" text-anchor="end" stroke="#1c1c1c">5.0</text>
<text class="d" x="147.20" y="2244.32" font-size="29.1" fill="#1c1c1c" text-anchor="end" stroke="#1c1c1c">7.5</text>
<text class="d" x="147.20" y="2171.02" font-size="29.1" fill="#1c1c1c" text-anchor="end" stroke="#1c1c1c">10.0</text>
<text class="d" x="147.20" y="2097.72" font-size="29.1" fill="#1c1c1c" text-anchor="end" stroke="#1c1c1c">12.5</text>
<text class="d" x="147.20" y="2024.42" font-size="29.1" fill="#1c1c1c" text-anchor="end" stroke="#1c1c1c">15.0</text>
<text class="d" x="61.50" y="2218.30" font-size="31.7" fill="#1c1c1c" text-anchor="middle" transform="rotate(-90 61.50 2218.30)" stroke="#1c1c1c">Gene Expression (Log TPM)</text>
<line x1="211.70" y1="2505.10" x2="268.70" y2="2505.10" stroke="#F07A95" stroke-width="6.8" stroke-linecap="round"/>
<text class="d" x="291.50" y="2514.80" font-size="29.1" fill="#1c1c1c" stroke="#1c1c1c">leaf</text>
<line x1="211.70" y1="2548.50" x2="268.70" y2="2548.50" stroke="#BB9A35" stroke-width="6.8" stroke-linecap="round"/>
<text class="d" x="291.50" y="2558.20" font-size="29.1" fill="#1c1c1c" stroke="#1c1c1c">embryo</text>
<line x1="464.30" y1="2505.10" x2="521.30" y2="2505.10" stroke="#64C430" stroke-width="6.8" stroke-linecap="round"/>
<text class="d" x="544.10" y="2514.80" font-size="29.1" fill="#1c1c1c" stroke="#1c1c1c">root</text>
<line x1="464.30" y1="2548.50" x2="521.30" y2="2548.50" stroke="#6FD0BC" stroke-width="6.8" stroke-linecap="round"/>
<text class="d" x="544.10" y="2558.20" font-size="29.1" fill="#1c1c1c" stroke="#1c1c1c">nod</text>
<line x1="663.30" y1="2505.10" x2="720.30" y2="2505.10" stroke="#6BA9D3" stroke-width="6.8" stroke-linecap="round"/>
<text class="d" x="743.10" y="2514.80" font-size="29.1" fill="#1c1c1c" stroke="#1c1c1c">panicle</text>
<line x1="663.30" y1="2548.50" x2="720.30" y2="2548.50" stroke="#C97ADB" stroke-width="6.8" stroke-linecap="round"/>
<text class="d" x="743.10" y="2558.20" font-size="29.1" fill="#1c1c1c" stroke="#1c1c1c">caryopsis</text>
</g>
<g id="labels">
<text class="s" transform="translate(48.00 57.40) scale(0.93 1)" x="0" y="0" font-size="53.4" fill="#231F20" stroke="#231F20" style="stroke-width:0.7px">a</text>
<text class="s" transform="translate(1211.20 57.40) scale(1.01 1)" x="0" y="0" font-size="53.4" fill="#231F20" stroke="#231F20" style="stroke-width:0.7px">b</text>
<text class="s" transform="translate(34.60 873.40) scale(1.075 1)" x="0" y="0" font-size="53.4" fill="#231F20" stroke="#231F20" style="stroke-width:0.7px">c</text>
<text class="s" transform="translate(1168.00 873.40) scale(1.03 1)" x="0" y="0" font-size="53.4" fill="#231F20" stroke="#231F20" style="stroke-width:0.7px">d</text>
<text class="s" transform="translate(34.80 1818.40) scale(1.055 1)" x="0" y="0" font-size="53.4" fill="#231F20" stroke="#231F20" style="stroke-width:0.7px">e</text>
</g>
</svg></body></html>
